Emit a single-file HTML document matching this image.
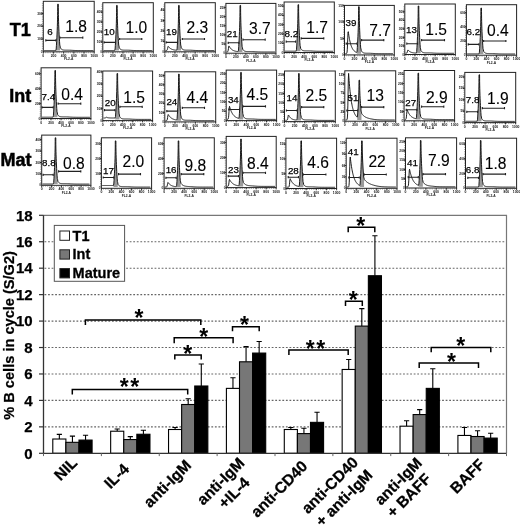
<!DOCTYPE html>
<html><head><meta charset="utf-8"><title>B cell cycle figure</title>
<style>html,body{margin:0;padding:0;background:#fff;}svg{display:block;}</style>
</head><body>
<svg width="520" height="527" viewBox="0 0 520 527" font-family="'Liberation Sans', Arial, sans-serif"><rect x="0" y="0" width="520" height="527" fill="#fff"/><text x="30.80" y="35.70" font-size="18" font-weight="bold" text-anchor="end" fill="#000" stroke="#000" stroke-width="0.5">T1</text><text x="31.20" y="102.00" font-size="18" font-weight="bold" text-anchor="end" fill="#000" stroke="#000" stroke-width="0.5">Int</text><text x="31.50" y="165.60" font-size="18" font-weight="bold" text-anchor="end" fill="#000" stroke="#000" stroke-width="0.5">Mat</text><rect x="43.30" y="1.30" width="50.90" height="50.50" fill="none" stroke="#222" stroke-width="1"/><line x1="42.40" y1="3.30" x2="42.40" y2="51.80" stroke="#444" stroke-width="0.8" stroke-dasharray="0.5 1.3"/><line x1="43.30" y1="52.70" x2="94.20" y2="52.70" stroke="#444" stroke-width="0.8" stroke-dasharray="0.5 1.3"/><line x1="41.50" y1="13.50" x2="43.30" y2="13.50" stroke="#222" stroke-width="0.9"/><text x="42.50" y="14.60" font-size="3.2" font-weight="bold" text-anchor="end" fill="#111" >300</text><line x1="41.50" y1="26.27" x2="43.30" y2="26.27" stroke="#222" stroke-width="0.9"/><text x="42.50" y="27.37" font-size="3.2" font-weight="bold" text-anchor="end" fill="#111" >200</text><line x1="41.50" y1="39.03" x2="43.30" y2="39.03" stroke="#222" stroke-width="0.9"/><text x="42.50" y="40.13" font-size="3.2" font-weight="bold" text-anchor="end" fill="#111" >100</text><text x="42.50" y="52.90" font-size="3.1" font-weight="bold" text-anchor="end" fill="#333" >0</text><line x1="43.30" y1="51.80" x2="43.30" y2="53.60" stroke="#222" stroke-width="0.9"/><text x="43.30" y="56.80" font-size="3.4" font-weight="bold" text-anchor="middle" fill="#111" >0</text><line x1="53.48" y1="51.80" x2="53.48" y2="53.60" stroke="#222" stroke-width="0.9"/><text x="53.48" y="56.80" font-size="3.4" font-weight="bold" text-anchor="middle" fill="#111" >200</text><line x1="63.66" y1="51.80" x2="63.66" y2="53.60" stroke="#222" stroke-width="0.9"/><text x="63.66" y="56.80" font-size="3.4" font-weight="bold" text-anchor="middle" fill="#111" >400</text><line x1="73.84" y1="51.80" x2="73.84" y2="53.60" stroke="#222" stroke-width="0.9"/><text x="73.84" y="56.80" font-size="3.4" font-weight="bold" text-anchor="middle" fill="#111" >600</text><line x1="84.02" y1="51.80" x2="84.02" y2="53.60" stroke="#222" stroke-width="0.9"/><text x="84.02" y="56.80" font-size="3.4" font-weight="bold" text-anchor="middle" fill="#111" >800</text><line x1="94.20" y1="51.80" x2="94.20" y2="53.60" stroke="#222" stroke-width="0.9"/><text x="94.20" y="56.80" font-size="3.4" font-weight="bold" text-anchor="middle" fill="#111" >1000</text><text x="68.75" y="60.20" font-size="3.3" font-weight="bold" text-anchor="middle" fill="#222" >FL2-A</text><path d="M55.90,50.10 L56.20,49.00 L56.44,45.27 L56.66,41.53 L56.86,37.80 L57.03,34.07 L57.19,30.33 L57.33,26.60 L57.44,22.87 L57.53,19.13 L57.61,15.40 L57.66,11.67 L57.69,7.93 L57.70,4.20 L58.30,4.20 L58.31,7.61 L58.34,11.02 L58.39,14.43 L58.47,17.84 L58.56,21.25 L58.67,24.66 L58.81,28.07 L58.97,31.48 L59.14,34.89 L59.34,38.30 L59.56,41.71 L59.80,45.12 L60.15,46.22 L60.15,50.60 L55.90,50.60 Z" fill="#9a9a9a" stroke="none"/><path d="M44.10,50.50 L44.35,50.50 L44.60,50.50 L44.85,50.50 L45.10,50.50 L45.35,50.50 L45.60,50.50 L45.85,50.50 L46.10,50.50 L46.35,50.50 L46.60,50.50 L46.85,50.50 L47.10,50.50 L47.35,50.50 L47.60,50.50 L47.85,50.50 L48.10,50.50 L48.35,50.50 L48.60,50.50 L48.85,50.50 L49.10,50.50 L49.35,50.50 L49.60,50.50 L49.85,50.50 L50.10,50.50 L50.35,50.50 L50.60,50.50 L50.85,50.50 L51.10,50.50 L51.35,50.50 L51.60,50.50 L51.85,50.50 L52.10,50.50 L52.35,50.50 L52.60,50.50 L52.85,50.50 L53.10,50.50 L53.35,50.50 L53.60,50.50 L53.85,50.50 L54.10,50.50 L54.35,50.50 L54.60,50.50 L54.85,50.50 L55.10,50.50 L55.35,50.50 L55.60,50.50 L55.85,50.50 L55.90,50.10 L56.20,49.00 L56.44,45.27 L56.66,41.53 L56.86,37.80 L57.03,34.07 L57.19,30.33 L57.33,26.60 L57.44,22.87 L57.53,19.13 L57.61,15.40 L57.66,11.67 L57.69,7.93 L57.70,4.20 L58.30,4.20 L58.31,7.61 L58.34,11.02 L58.39,14.43 L58.47,17.84 L58.56,21.25 L58.67,24.66 L58.81,28.07 L58.97,31.48 L59.14,34.89 L59.34,38.30 L59.56,41.71 L59.80,45.12 L60.15,46.22 L60.40,47.89 L60.65,48.29 L60.90,48.62 L61.15,48.90 L61.40,49.13 L61.65,49.33 L61.90,49.49 L62.15,49.63 L62.40,49.74 L62.65,49.83 L62.90,49.91 L63.15,49.97 L63.40,50.02 L63.65,50.06 L63.90,50.09 L64.15,50.12 L64.40,50.14 L64.65,50.15 L64.90,50.16 L65.15,50.17 L65.40,50.17 L65.65,50.18 L65.90,50.18 L66.15,50.18 L66.40,50.18 L66.65,50.18 L66.90,50.18 L67.15,50.18 L67.40,50.18 L67.65,50.18 L67.90,50.18 L68.15,50.19 L68.40,50.19 L68.65,50.19 L68.90,50.20 L69.15,50.21 L69.40,50.21 L69.65,50.22 L69.90,50.23 L70.15,50.24 L70.90,50.28 L71.65,50.32 L72.40,50.37 L73.15,50.41 L73.90,50.45 L74.65,50.48 L75.40,50.51 L76.15,50.54 L76.90,50.56 L77.65,50.57 L78.40,50.58 L79.15,50.59 L79.90,50.59 L80.65,50.60 L81.40,50.60 L82.15,50.60 L82.90,50.60 L83.65,50.60 L84.40,50.60 L85.15,50.60 L85.90,50.60 L86.65,50.60 L87.40,50.60 L88.15,50.60 L88.90,50.60 L89.65,50.60 L90.40,50.60 L91.15,50.60 L91.90,50.60 L92.65,50.60 L93.40,50.60" fill="none" stroke="#111" stroke-width="0.95" stroke-linejoin="round"/><path d="M45.80,40.40 H55.90 M45.80,39.30 V41.50 M55.90,39.30 V41.50" stroke="#222" stroke-width="1.1" fill="none"/><path d="M59.90,37.70 H82.80 M59.90,36.60 V38.80 M82.80,36.60 V38.80" stroke="#222" stroke-width="1.1" fill="none"/><text x="50.00" y="35.00" font-size="9.8" font-weight="normal" text-anchor="middle" fill="#000" stroke="#000" stroke-width="0.25">6</text><text x="76.15" y="32.00" font-size="15.6" font-weight="normal" text-anchor="middle" fill="#000" stroke="#000" stroke-width="0.1">1.8</text><rect x="102.80" y="2.70" width="50.50" height="49.10" fill="none" stroke="#222" stroke-width="1"/><line x1="101.90" y1="4.70" x2="101.90" y2="51.80" stroke="#444" stroke-width="0.8" stroke-dasharray="0.5 1.3"/><line x1="102.80" y1="52.70" x2="153.30" y2="52.70" stroke="#444" stroke-width="0.8" stroke-dasharray="0.5 1.3"/><line x1="101.00" y1="12.10" x2="102.80" y2="12.10" stroke="#222" stroke-width="0.9"/><text x="102.00" y="13.20" font-size="3.2" font-weight="bold" text-anchor="end" fill="#111" >400</text><line x1="101.00" y1="22.02" x2="102.80" y2="22.02" stroke="#222" stroke-width="0.9"/><text x="102.00" y="23.12" font-size="3.2" font-weight="bold" text-anchor="end" fill="#111" >300</text><line x1="101.00" y1="31.95" x2="102.80" y2="31.95" stroke="#222" stroke-width="0.9"/><text x="102.00" y="33.05" font-size="3.2" font-weight="bold" text-anchor="end" fill="#111" >200</text><line x1="101.00" y1="41.88" x2="102.80" y2="41.88" stroke="#222" stroke-width="0.9"/><text x="102.00" y="42.98" font-size="3.2" font-weight="bold" text-anchor="end" fill="#111" >100</text><text x="102.00" y="52.90" font-size="3.1" font-weight="bold" text-anchor="end" fill="#333" >0</text><line x1="102.80" y1="51.80" x2="102.80" y2="53.60" stroke="#222" stroke-width="0.9"/><text x="102.80" y="56.80" font-size="3.4" font-weight="bold" text-anchor="middle" fill="#111" >0</text><line x1="112.90" y1="51.80" x2="112.90" y2="53.60" stroke="#222" stroke-width="0.9"/><text x="112.90" y="56.80" font-size="3.4" font-weight="bold" text-anchor="middle" fill="#111" >200</text><line x1="123.00" y1="51.80" x2="123.00" y2="53.60" stroke="#222" stroke-width="0.9"/><text x="123.00" y="56.80" font-size="3.4" font-weight="bold" text-anchor="middle" fill="#111" >400</text><line x1="133.10" y1="51.80" x2="133.10" y2="53.60" stroke="#222" stroke-width="0.9"/><text x="133.10" y="56.80" font-size="3.4" font-weight="bold" text-anchor="middle" fill="#111" >600</text><line x1="143.20" y1="51.80" x2="143.20" y2="53.60" stroke="#222" stroke-width="0.9"/><text x="143.20" y="56.80" font-size="3.4" font-weight="bold" text-anchor="middle" fill="#111" >800</text><line x1="153.30" y1="51.80" x2="153.30" y2="53.60" stroke="#222" stroke-width="0.9"/><text x="153.30" y="56.80" font-size="3.4" font-weight="bold" text-anchor="middle" fill="#111" >1000</text><text x="128.05" y="60.20" font-size="3.3" font-weight="bold" text-anchor="middle" fill="#222" >FL2-A</text><path d="M114.80,50.10 L115.10,49.00 L115.34,45.37 L115.56,41.73 L115.76,38.10 L115.93,34.47 L116.09,30.83 L116.23,27.20 L116.34,23.57 L116.43,19.93 L116.51,16.30 L116.56,12.67 L116.59,9.03 L116.60,5.40 L117.20,5.40 L117.21,8.71 L117.24,12.02 L117.29,15.33 L117.37,18.64 L117.46,21.95 L117.58,25.26 L117.71,28.57 L117.87,31.88 L118.04,35.19 L118.24,38.50 L118.46,41.81 L118.70,45.12 L119.05,46.22 L119.05,50.60 L114.80,50.60 Z" fill="#9a9a9a" stroke="none"/><path d="M103.60,50.50 L103.85,50.50 L104.10,50.50 L104.35,50.50 L104.60,50.50 L104.85,50.50 L105.10,50.50 L105.35,50.50 L105.60,50.50 L105.85,50.50 L106.10,50.50 L106.35,50.50 L106.60,50.50 L106.85,50.50 L107.10,50.50 L107.35,50.50 L107.60,50.50 L107.85,50.50 L108.10,50.50 L108.35,50.50 L108.60,50.50 L108.85,50.50 L109.10,50.50 L109.35,50.50 L109.60,50.50 L109.85,50.50 L110.10,50.50 L110.35,50.50 L110.60,50.50 L110.85,50.50 L111.10,50.50 L111.35,50.50 L111.60,50.50 L111.85,50.50 L112.10,50.50 L112.35,50.50 L112.60,50.50 L112.85,50.50 L113.10,50.50 L113.35,50.50 L113.60,50.50 L113.85,50.50 L114.10,50.50 L114.35,50.50 L114.60,50.50 L114.80,50.10 L115.10,49.00 L115.34,45.37 L115.56,41.73 L115.76,38.10 L115.93,34.47 L116.09,30.83 L116.23,27.20 L116.34,23.57 L116.43,19.93 L116.51,16.30 L116.56,12.67 L116.59,9.03 L116.60,5.40 L117.20,5.40 L117.21,8.71 L117.24,12.02 L117.29,15.33 L117.37,18.64 L117.46,21.95 L117.58,25.26 L117.71,28.57 L117.87,31.88 L118.04,35.19 L118.24,38.50 L118.46,41.81 L118.70,45.12 L119.05,46.22 L119.30,47.89 L119.55,48.29 L119.80,48.62 L120.05,48.90 L120.30,49.13 L120.55,49.33 L120.80,49.49 L121.05,49.63 L121.30,49.74 L121.55,49.83 L121.80,49.91 L122.05,49.97 L122.30,50.02 L122.55,50.06 L122.80,50.09 L123.05,50.12 L123.30,50.14 L123.55,50.15 L123.80,50.16 L124.05,50.17 L124.30,50.17 L124.55,50.18 L124.80,50.18 L125.05,50.18 L125.30,50.18 L125.55,50.18 L125.80,50.18 L126.05,50.18 L126.30,50.18 L126.55,50.18 L126.80,50.18 L127.05,50.19 L127.30,50.19 L127.55,50.19 L127.80,50.20 L128.05,50.21 L128.30,50.21 L128.55,50.22 L128.80,50.23 L129.05,50.24 L129.80,50.28 L130.55,50.32 L131.30,50.37 L132.05,50.41 L132.80,50.45 L133.55,50.48 L134.30,50.51 L135.05,50.54 L135.80,50.56 L136.55,50.57 L137.30,50.58 L138.05,50.59 L138.80,50.59 L139.55,50.60 L140.30,50.60 L141.05,50.60 L141.80,50.60 L142.55,50.60 L143.30,50.60 L144.05,50.60 L144.80,50.60 L145.55,50.60 L146.30,50.60 L147.05,50.60 L147.80,50.60 L148.55,50.60 L149.30,50.60 L150.05,50.60 L150.80,50.60 L151.55,50.60 L152.30,50.60" fill="none" stroke="#111" stroke-width="0.95" stroke-linejoin="round"/><path d="M104.10,42.40 H115.60 M104.10,41.30 V43.50 M115.60,41.30 V43.50" stroke="#222" stroke-width="1.1" fill="none"/><path d="M119.60,39.00 H141.80 M119.60,37.90 V40.10 M141.80,37.90 V40.10" stroke="#222" stroke-width="1.1" fill="none"/><text x="109.20" y="35.00" font-size="9.8" font-weight="normal" text-anchor="middle" fill="#000" stroke="#000" stroke-width="0.25">10</text><text x="136.45" y="33.10" font-size="15.6" font-weight="normal" text-anchor="middle" fill="#000" stroke="#000" stroke-width="0.1">1.0</text><rect x="164.80" y="2.70" width="50.50" height="49.10" fill="none" stroke="#222" stroke-width="1"/><line x1="163.90" y1="4.70" x2="163.90" y2="51.80" stroke="#444" stroke-width="0.8" stroke-dasharray="0.5 1.3"/><line x1="164.80" y1="52.70" x2="215.30" y2="52.70" stroke="#444" stroke-width="0.8" stroke-dasharray="0.5 1.3"/><line x1="163.00" y1="10.10" x2="164.80" y2="10.10" stroke="#222" stroke-width="0.9"/><text x="164.00" y="11.20" font-size="3.2" font-weight="bold" text-anchor="end" fill="#111" >40</text><line x1="163.00" y1="20.52" x2="164.80" y2="20.52" stroke="#222" stroke-width="0.9"/><text x="164.00" y="21.62" font-size="3.2" font-weight="bold" text-anchor="end" fill="#111" >30</text><line x1="163.00" y1="30.95" x2="164.80" y2="30.95" stroke="#222" stroke-width="0.9"/><text x="164.00" y="32.05" font-size="3.2" font-weight="bold" text-anchor="end" fill="#111" >20</text><line x1="163.00" y1="41.38" x2="164.80" y2="41.38" stroke="#222" stroke-width="0.9"/><text x="164.00" y="42.48" font-size="3.2" font-weight="bold" text-anchor="end" fill="#111" >10</text><text x="164.00" y="52.90" font-size="3.1" font-weight="bold" text-anchor="end" fill="#333" >0</text><line x1="164.80" y1="51.80" x2="164.80" y2="53.60" stroke="#222" stroke-width="0.9"/><text x="164.80" y="56.80" font-size="3.4" font-weight="bold" text-anchor="middle" fill="#111" >0</text><line x1="174.90" y1="51.80" x2="174.90" y2="53.60" stroke="#222" stroke-width="0.9"/><text x="174.90" y="56.80" font-size="3.4" font-weight="bold" text-anchor="middle" fill="#111" >200</text><line x1="185.00" y1="51.80" x2="185.00" y2="53.60" stroke="#222" stroke-width="0.9"/><text x="185.00" y="56.80" font-size="3.4" font-weight="bold" text-anchor="middle" fill="#111" >400</text><line x1="195.10" y1="51.80" x2="195.10" y2="53.60" stroke="#222" stroke-width="0.9"/><text x="195.10" y="56.80" font-size="3.4" font-weight="bold" text-anchor="middle" fill="#111" >600</text><line x1="205.20" y1="51.80" x2="205.20" y2="53.60" stroke="#222" stroke-width="0.9"/><text x="205.20" y="56.80" font-size="3.4" font-weight="bold" text-anchor="middle" fill="#111" >800</text><line x1="215.30" y1="51.80" x2="215.30" y2="53.60" stroke="#222" stroke-width="0.9"/><text x="215.30" y="56.80" font-size="3.4" font-weight="bold" text-anchor="middle" fill="#111" >1000</text><text x="190.05" y="60.20" font-size="3.3" font-weight="bold" text-anchor="middle" fill="#222" >FL2-A</text><path d="M176.80,49.88 L177.10,48.78 L177.34,45.17 L177.56,41.55 L177.76,37.94 L177.93,34.32 L178.09,30.71 L178.22,27.09 L178.34,23.48 L178.43,19.86 L178.51,16.25 L178.56,12.63 L178.59,9.02 L178.60,5.40 L179.20,5.40 L179.21,8.70 L179.24,12.01 L179.29,15.31 L179.37,18.62 L179.46,21.92 L179.58,25.23 L179.71,28.53 L179.87,31.84 L180.04,35.14 L180.24,38.45 L180.46,41.75 L180.70,45.06 L181.05,46.16 L181.05,50.60 L176.80,50.60 Z" fill="#9a9a9a" stroke="none"/><path d="M165.60,50.50 L165.85,50.50 L166.10,50.50 L166.35,50.50 L166.60,50.48 L166.85,50.40 L167.10,50.14 L167.35,49.54 L167.60,48.49 L167.85,47.23 L168.10,46.38 L168.35,46.50 L168.60,46.82 L168.85,47.12 L169.10,47.39 L169.35,47.64 L169.60,47.87 L169.85,48.08 L170.10,48.27 L170.35,48.45 L170.60,48.61 L170.85,48.76 L171.10,48.90 L171.35,49.03 L171.60,49.15 L171.85,49.26 L172.10,49.36 L172.35,49.45 L172.60,49.53 L172.85,49.61 L173.10,49.68 L173.35,49.75 L173.60,49.81 L173.85,49.86 L174.10,49.91 L174.35,49.96 L174.60,50.00 L174.85,50.04 L175.10,50.08 L175.35,50.11 L175.60,50.14 L175.85,50.17 L176.10,50.20 L176.35,50.22 L176.60,50.24 L176.80,49.88 L177.10,48.78 L177.34,45.17 L177.56,41.55 L177.76,37.94 L177.93,34.32 L178.09,30.71 L178.22,27.09 L178.34,23.48 L178.43,19.86 L178.51,16.25 L178.56,12.63 L178.59,9.02 L178.60,5.40 L179.20,5.40 L179.21,8.70 L179.24,12.01 L179.29,15.31 L179.37,18.62 L179.46,21.92 L179.58,25.23 L179.71,28.53 L179.87,31.84 L180.04,35.14 L180.24,38.45 L180.46,41.75 L180.70,45.06 L181.05,46.16 L181.30,47.84 L181.55,48.24 L181.80,48.57 L182.05,48.86 L182.30,49.09 L182.55,49.29 L182.80,49.46 L183.05,49.60 L183.30,49.71 L183.55,49.81 L183.80,49.89 L184.05,49.95 L184.30,50.00 L184.55,50.04 L184.80,50.08 L185.05,50.10 L185.30,50.12 L185.55,50.14 L185.80,50.15 L186.05,50.16 L186.30,50.16 L186.55,50.17 L186.80,50.17 L187.05,50.17 L187.30,50.17 L187.55,50.17 L187.80,50.17 L188.05,50.17 L188.30,50.17 L188.55,50.18 L188.80,50.18 L189.05,50.18 L189.30,50.19 L189.55,50.19 L189.80,50.20 L190.05,50.20 L190.30,50.21 L190.55,50.22 L190.80,50.23 L191.05,50.24 L191.80,50.28 L192.55,50.32 L193.30,50.36 L194.05,50.41 L194.80,50.45 L195.55,50.48 L196.30,50.51 L197.05,50.54 L197.80,50.56 L198.55,50.57 L199.30,50.58 L200.05,50.59 L200.80,50.59 L201.55,50.60 L202.30,50.60 L203.05,50.60 L203.80,50.60 L204.55,50.60 L205.30,50.60 L206.05,50.60 L206.80,50.60 L207.55,50.60 L208.30,50.60 L209.05,50.60 L209.80,50.60 L210.55,50.60 L211.30,50.60 L212.05,50.60 L212.80,50.60 L213.55,50.60 L214.30,50.60" fill="none" stroke="#111" stroke-width="0.95" stroke-linejoin="round"/><path d="M166.20,42.40 H177.60 M166.20,41.30 V43.50 M177.60,41.30 V43.50" stroke="#222" stroke-width="1.1" fill="none"/><path d="M182.30,39.00 H204.50 M182.30,37.90 V40.10 M204.50,37.90 V40.10" stroke="#222" stroke-width="1.1" fill="none"/><text x="171.50" y="35.40" font-size="9.8" font-weight="normal" text-anchor="middle" fill="#000" stroke="#000" stroke-width="0.25">19</text><text x="197.45" y="32.70" font-size="15.6" font-weight="normal" text-anchor="middle" fill="#000" stroke="#000" stroke-width="0.1">2.3</text><rect x="225.90" y="3.40" width="50.00" height="49.80" fill="none" stroke="#222" stroke-width="1"/><line x1="225.00" y1="5.40" x2="225.00" y2="53.20" stroke="#444" stroke-width="0.8" stroke-dasharray="0.5 1.3"/><line x1="225.90" y1="54.10" x2="275.90" y2="54.10" stroke="#444" stroke-width="0.8" stroke-dasharray="0.5 1.3"/><line x1="224.10" y1="7.40" x2="225.90" y2="7.40" stroke="#222" stroke-width="0.9"/><text x="225.10" y="8.50" font-size="3.2" font-weight="bold" text-anchor="end" fill="#111" >250</text><line x1="224.10" y1="16.56" x2="225.90" y2="16.56" stroke="#222" stroke-width="0.9"/><text x="225.10" y="17.66" font-size="3.2" font-weight="bold" text-anchor="end" fill="#111" >200</text><line x1="224.10" y1="25.72" x2="225.90" y2="25.72" stroke="#222" stroke-width="0.9"/><text x="225.10" y="26.82" font-size="3.2" font-weight="bold" text-anchor="end" fill="#111" >150</text><line x1="224.10" y1="34.88" x2="225.90" y2="34.88" stroke="#222" stroke-width="0.9"/><text x="225.10" y="35.98" font-size="3.2" font-weight="bold" text-anchor="end" fill="#111" >100</text><line x1="224.10" y1="44.04" x2="225.90" y2="44.04" stroke="#222" stroke-width="0.9"/><text x="225.10" y="45.14" font-size="3.2" font-weight="bold" text-anchor="end" fill="#111" >50</text><text x="225.10" y="54.30" font-size="3.1" font-weight="bold" text-anchor="end" fill="#333" >0</text><line x1="225.90" y1="53.20" x2="225.90" y2="55.00" stroke="#222" stroke-width="0.9"/><text x="225.90" y="58.20" font-size="3.4" font-weight="bold" text-anchor="middle" fill="#111" >0</text><line x1="235.90" y1="53.20" x2="235.90" y2="55.00" stroke="#222" stroke-width="0.9"/><text x="235.90" y="58.20" font-size="3.4" font-weight="bold" text-anchor="middle" fill="#111" >200</text><line x1="245.90" y1="53.20" x2="245.90" y2="55.00" stroke="#222" stroke-width="0.9"/><text x="245.90" y="58.20" font-size="3.4" font-weight="bold" text-anchor="middle" fill="#111" >400</text><line x1="255.90" y1="53.20" x2="255.90" y2="55.00" stroke="#222" stroke-width="0.9"/><text x="255.90" y="58.20" font-size="3.4" font-weight="bold" text-anchor="middle" fill="#111" >600</text><line x1="265.90" y1="53.20" x2="265.90" y2="55.00" stroke="#222" stroke-width="0.9"/><text x="265.90" y="58.20" font-size="3.4" font-weight="bold" text-anchor="middle" fill="#111" >800</text><line x1="275.90" y1="53.20" x2="275.90" y2="55.00" stroke="#222" stroke-width="0.9"/><text x="275.90" y="58.20" font-size="3.4" font-weight="bold" text-anchor="middle" fill="#111" >1000</text><text x="250.90" y="61.60" font-size="3.3" font-weight="bold" text-anchor="middle" fill="#222" >FL2-A</text><path d="M238.20,51.25 L238.50,50.15 L238.74,46.42 L238.96,42.69 L239.16,38.96 L239.33,35.23 L239.49,31.50 L239.62,27.77 L239.74,24.04 L239.83,20.32 L239.91,16.59 L239.96,12.86 L239.99,9.13 L240.00,5.40 L240.60,5.40 L240.61,8.82 L240.64,12.24 L240.69,15.66 L240.77,19.08 L240.86,22.50 L240.98,25.92 L241.11,29.34 L241.27,32.76 L241.44,36.18 L241.64,39.60 L241.86,43.02 L242.10,46.45 L242.45,47.55 L242.45,52.00 L238.20,52.00 Z" fill="#9a9a9a" stroke="none"/><path d="M226.70,51.90 L226.95,51.90 L227.20,51.89 L227.45,51.86 L227.70,51.71 L227.95,51.27 L228.20,50.27 L228.45,48.66 L228.70,46.91 L228.95,45.93 L229.20,46.29 L229.45,46.74 L229.70,47.15 L229.95,47.53 L230.20,47.88 L230.45,48.20 L230.70,48.50 L230.95,48.77 L231.20,49.02 L231.45,49.25 L231.70,49.46 L231.95,49.66 L232.20,49.84 L232.45,50.00 L232.70,50.15 L232.95,50.29 L233.20,50.42 L233.45,50.54 L233.70,50.65 L233.95,50.75 L234.20,50.84 L234.45,50.92 L234.70,51.00 L234.95,51.07 L235.20,51.14 L235.45,51.20 L235.70,51.26 L235.95,51.31 L236.20,51.36 L236.45,51.40 L236.70,51.44 L236.95,51.48 L237.20,51.51 L237.45,51.54 L237.70,51.57 L237.95,51.60 L238.20,51.25 L238.50,50.15 L238.74,46.42 L238.96,42.69 L239.16,38.96 L239.33,35.23 L239.49,31.50 L239.62,27.77 L239.74,24.04 L239.83,20.32 L239.91,16.59 L239.96,12.86 L239.99,9.13 L240.00,5.40 L240.60,5.40 L240.61,8.82 L240.64,12.24 L240.69,15.66 L240.77,19.08 L240.86,22.50 L240.98,25.92 L241.11,29.34 L241.27,32.76 L241.44,36.18 L241.64,39.60 L241.86,43.02 L242.10,46.45 L242.45,47.55 L242.70,49.23 L242.95,49.63 L243.20,49.97 L243.45,50.25 L243.70,50.49 L243.95,50.69 L244.20,50.85 L244.45,50.99 L244.70,51.11 L244.95,51.20 L245.20,51.28 L245.45,51.35 L245.70,51.40 L245.95,51.44 L246.20,51.48 L246.45,51.50 L246.70,51.52 L246.95,51.54 L247.20,51.55 L247.45,51.56 L247.70,51.56 L247.95,51.57 L248.20,51.57 L248.45,51.57 L248.70,51.57 L248.95,51.57 L249.20,51.57 L249.45,51.57 L249.70,51.57 L249.95,51.57 L250.20,51.58 L250.45,51.58 L250.70,51.58 L250.95,51.59 L251.20,51.60 L251.45,51.60 L251.70,51.61 L251.95,51.62 L252.20,51.63 L252.45,51.64 L253.20,51.68 L253.95,51.72 L254.70,51.76 L255.45,51.81 L256.20,51.85 L256.95,51.88 L257.70,51.91 L258.45,51.94 L259.20,51.96 L259.95,51.97 L260.70,51.98 L261.45,51.99 L262.20,51.99 L262.95,52.00 L263.70,52.00 L264.45,52.00 L265.20,52.00 L265.95,52.00 L266.70,52.00 L267.45,52.00 L268.20,52.00 L268.95,52.00 L269.70,52.00 L270.45,52.00 L271.20,52.00 L271.95,52.00 L272.70,52.00 L273.45,52.00 L274.20,52.00 L274.95,52.00" fill="none" stroke="#111" stroke-width="0.95" stroke-linejoin="round"/><path d="M228.20,42.80 H238.90 M228.20,41.70 V43.90 M238.90,41.70 V43.90" stroke="#222" stroke-width="1.1" fill="none"/><path d="M243.00,39.70 H265.20 M243.00,38.60 V40.80 M265.20,38.60 V40.80" stroke="#222" stroke-width="1.1" fill="none"/><text x="232.20" y="37.10" font-size="9.8" font-weight="normal" text-anchor="middle" fill="#000" stroke="#000" stroke-width="0.25">21</text><text x="259.80" y="34.00" font-size="15.6" font-weight="normal" text-anchor="middle" fill="#000" stroke="#000" stroke-width="0.1">3.7</text><rect x="284.10" y="2.00" width="50.20" height="50.50" fill="none" stroke="#222" stroke-width="1"/><line x1="283.20" y1="4.00" x2="283.20" y2="52.50" stroke="#444" stroke-width="0.8" stroke-dasharray="0.5 1.3"/><line x1="284.10" y1="53.40" x2="334.30" y2="53.40" stroke="#444" stroke-width="0.8" stroke-dasharray="0.5 1.3"/><line x1="282.30" y1="6.10" x2="284.10" y2="6.10" stroke="#222" stroke-width="0.9"/><text x="283.30" y="7.20" font-size="3.2" font-weight="bold" text-anchor="end" fill="#111" >500</text><line x1="282.30" y1="15.38" x2="284.10" y2="15.38" stroke="#222" stroke-width="0.9"/><text x="283.30" y="16.48" font-size="3.2" font-weight="bold" text-anchor="end" fill="#111" >400</text><line x1="282.30" y1="24.66" x2="284.10" y2="24.66" stroke="#222" stroke-width="0.9"/><text x="283.30" y="25.76" font-size="3.2" font-weight="bold" text-anchor="end" fill="#111" >300</text><line x1="282.30" y1="33.94" x2="284.10" y2="33.94" stroke="#222" stroke-width="0.9"/><text x="283.30" y="35.04" font-size="3.2" font-weight="bold" text-anchor="end" fill="#111" >200</text><line x1="282.30" y1="43.22" x2="284.10" y2="43.22" stroke="#222" stroke-width="0.9"/><text x="283.30" y="44.32" font-size="3.2" font-weight="bold" text-anchor="end" fill="#111" >100</text><text x="283.30" y="53.60" font-size="3.1" font-weight="bold" text-anchor="end" fill="#333" >0</text><line x1="284.10" y1="52.50" x2="284.10" y2="54.30" stroke="#222" stroke-width="0.9"/><text x="284.10" y="57.50" font-size="3.4" font-weight="bold" text-anchor="middle" fill="#111" >0</text><line x1="294.14" y1="52.50" x2="294.14" y2="54.30" stroke="#222" stroke-width="0.9"/><text x="294.14" y="57.50" font-size="3.4" font-weight="bold" text-anchor="middle" fill="#111" >200</text><line x1="304.18" y1="52.50" x2="304.18" y2="54.30" stroke="#222" stroke-width="0.9"/><text x="304.18" y="57.50" font-size="3.4" font-weight="bold" text-anchor="middle" fill="#111" >400</text><line x1="314.22" y1="52.50" x2="314.22" y2="54.30" stroke="#222" stroke-width="0.9"/><text x="314.22" y="57.50" font-size="3.4" font-weight="bold" text-anchor="middle" fill="#111" >600</text><line x1="324.26" y1="52.50" x2="324.26" y2="54.30" stroke="#222" stroke-width="0.9"/><text x="324.26" y="57.50" font-size="3.4" font-weight="bold" text-anchor="middle" fill="#111" >800</text><line x1="334.30" y1="52.50" x2="334.30" y2="54.30" stroke="#222" stroke-width="0.9"/><text x="334.30" y="57.50" font-size="3.4" font-weight="bold" text-anchor="middle" fill="#111" >1000</text><text x="309.20" y="60.90" font-size="3.3" font-weight="bold" text-anchor="middle" fill="#222" >FL2-A</text><path d="M296.20,50.80 L296.50,49.70 L296.74,45.95 L296.96,42.20 L297.16,38.45 L297.33,34.70 L297.49,30.95 L297.62,27.20 L297.74,23.45 L297.83,19.70 L297.91,15.95 L297.96,12.20 L297.99,8.45 L298.00,4.70 L298.60,4.70 L298.61,8.13 L298.64,11.55 L298.69,14.98 L298.77,18.41 L298.86,21.83 L298.98,25.26 L299.11,28.69 L299.27,32.11 L299.44,35.54 L299.64,38.97 L299.86,42.39 L300.10,45.82 L300.45,46.92 L300.45,51.30 L296.20,51.30 Z" fill="#9a9a9a" stroke="none"/><path d="M284.90,51.20 L285.15,51.20 L285.40,51.20 L285.65,51.20 L285.90,51.20 L286.15,51.20 L286.40,51.20 L286.65,51.20 L286.90,51.20 L287.15,51.20 L287.40,51.20 L287.65,51.20 L287.90,51.20 L288.15,51.20 L288.40,51.20 L288.65,51.20 L288.90,51.20 L289.15,51.20 L289.40,51.20 L289.65,51.20 L289.90,51.20 L290.15,51.20 L290.40,51.20 L290.65,51.20 L290.90,51.20 L291.15,51.20 L291.40,51.20 L291.65,51.20 L291.90,51.20 L292.15,51.20 L292.40,51.20 L292.65,51.20 L292.90,51.20 L293.15,51.20 L293.40,51.20 L293.65,51.20 L293.90,51.20 L294.15,51.20 L294.40,51.20 L294.65,51.20 L294.90,51.20 L295.15,51.20 L295.40,51.20 L295.65,51.20 L295.90,51.20 L296.15,51.20 L296.20,50.80 L296.50,49.70 L296.74,45.95 L296.96,42.20 L297.16,38.45 L297.33,34.70 L297.49,30.95 L297.62,27.20 L297.74,23.45 L297.83,19.70 L297.91,15.95 L297.96,12.20 L297.99,8.45 L298.00,4.70 L298.60,4.70 L298.61,8.13 L298.64,11.55 L298.69,14.98 L298.77,18.41 L298.86,21.83 L298.98,25.26 L299.11,28.69 L299.27,32.11 L299.44,35.54 L299.64,38.97 L299.86,42.39 L300.10,45.82 L300.45,46.92 L300.70,48.59 L300.95,48.99 L301.20,49.32 L301.45,49.60 L301.70,49.83 L301.95,50.03 L302.20,50.19 L302.45,50.33 L302.70,50.44 L302.95,50.53 L303.20,50.61 L303.45,50.67 L303.70,50.72 L303.95,50.76 L304.20,50.79 L304.45,50.82 L304.70,50.84 L304.95,50.85 L305.20,50.86 L305.45,50.87 L305.70,50.87 L305.95,50.88 L306.20,50.88 L306.45,50.88 L306.70,50.88 L306.95,50.88 L307.20,50.88 L307.45,50.88 L307.70,50.88 L307.95,50.88 L308.20,50.88 L308.45,50.89 L308.70,50.89 L308.95,50.89 L309.20,50.90 L309.45,50.91 L309.70,50.91 L309.95,50.92 L310.20,50.93 L310.45,50.94 L311.20,50.98 L311.95,51.02 L312.70,51.07 L313.45,51.11 L314.20,51.15 L314.95,51.18 L315.70,51.21 L316.45,51.24 L317.20,51.26 L317.95,51.27 L318.70,51.28 L319.45,51.29 L320.20,51.29 L320.95,51.30 L321.70,51.30 L322.45,51.30 L323.20,51.30 L323.95,51.30 L324.70,51.30 L325.45,51.30 L326.20,51.30 L326.95,51.30 L327.70,51.30 L328.45,51.30 L329.20,51.30 L329.95,51.30 L330.70,51.30 L331.45,51.30 L332.20,51.30 L332.95,51.30" fill="none" stroke="#111" stroke-width="0.95" stroke-linejoin="round"/><path d="M286.20,41.70 H295.60 M286.20,40.60 V42.80 M295.60,40.60 V42.80" stroke="#222" stroke-width="1.1" fill="none"/><path d="M301.20,38.40 H323.80 M301.20,37.30 V39.50 M323.80,37.30 V39.50" stroke="#222" stroke-width="1.1" fill="none"/><text x="291.35" y="36.70" font-size="9.8" font-weight="normal" text-anchor="middle" fill="#000" stroke="#000" stroke-width="0.25">8.2</text><text x="317.10" y="33.30" font-size="15.6" font-weight="normal" text-anchor="middle" fill="#000" stroke="#000" stroke-width="0.1">1.7</text><rect x="344.50" y="5.40" width="49.80" height="49.50" fill="none" stroke="#222" stroke-width="1"/><line x1="343.60" y1="7.40" x2="343.60" y2="54.90" stroke="#444" stroke-width="0.8" stroke-dasharray="0.5 1.3"/><line x1="344.50" y1="55.80" x2="394.30" y2="55.80" stroke="#444" stroke-width="0.8" stroke-dasharray="0.5 1.3"/><line x1="342.70" y1="5.40" x2="344.50" y2="5.40" stroke="#222" stroke-width="0.9"/><text x="343.70" y="6.50" font-size="3.2" font-weight="bold" text-anchor="end" fill="#111" >150</text><line x1="342.70" y1="21.90" x2="344.50" y2="21.90" stroke="#222" stroke-width="0.9"/><text x="343.70" y="23.00" font-size="3.2" font-weight="bold" text-anchor="end" fill="#111" >100</text><line x1="342.70" y1="38.40" x2="344.50" y2="38.40" stroke="#222" stroke-width="0.9"/><text x="343.70" y="39.50" font-size="3.2" font-weight="bold" text-anchor="end" fill="#111" >50</text><text x="343.70" y="56.00" font-size="3.1" font-weight="bold" text-anchor="end" fill="#333" >0</text><line x1="344.50" y1="54.90" x2="344.50" y2="56.70" stroke="#222" stroke-width="0.9"/><text x="344.50" y="59.90" font-size="3.4" font-weight="bold" text-anchor="middle" fill="#111" >0</text><line x1="354.46" y1="54.90" x2="354.46" y2="56.70" stroke="#222" stroke-width="0.9"/><text x="354.46" y="59.90" font-size="3.4" font-weight="bold" text-anchor="middle" fill="#111" >200</text><line x1="364.42" y1="54.90" x2="364.42" y2="56.70" stroke="#222" stroke-width="0.9"/><text x="364.42" y="59.90" font-size="3.4" font-weight="bold" text-anchor="middle" fill="#111" >400</text><line x1="374.38" y1="54.90" x2="374.38" y2="56.70" stroke="#222" stroke-width="0.9"/><text x="374.38" y="59.90" font-size="3.4" font-weight="bold" text-anchor="middle" fill="#111" >600</text><line x1="384.34" y1="54.90" x2="384.34" y2="56.70" stroke="#222" stroke-width="0.9"/><text x="384.34" y="59.90" font-size="3.4" font-weight="bold" text-anchor="middle" fill="#111" >800</text><line x1="394.30" y1="54.90" x2="394.30" y2="56.70" stroke="#222" stroke-width="0.9"/><text x="394.30" y="59.90" font-size="3.4" font-weight="bold" text-anchor="middle" fill="#111" >1000</text><text x="369.40" y="63.30" font-size="3.3" font-weight="bold" text-anchor="middle" fill="#222" >FL2-A</text><path d="M356.80,52.25 L357.10,51.15 L357.34,47.45 L357.56,43.75 L357.76,40.04 L357.93,36.34 L358.09,32.63 L358.22,28.93 L358.34,25.22 L358.43,21.52 L358.51,17.81 L358.56,14.11 L358.59,10.40 L358.60,6.70 L359.20,6.70 L359.21,10.14 L359.24,13.58 L359.29,17.02 L359.37,20.45 L359.46,23.89 L359.57,27.33 L359.71,30.77 L359.87,34.21 L360.04,37.65 L360.24,41.08 L360.46,44.52 L360.70,47.96 L361.05,49.06 L361.05,53.70 L356.80,53.70 Z" fill="#9a9a9a" stroke="none"/><path d="M345.30,53.60 L345.55,53.60 L345.80,53.60 L346.05,53.60 L346.30,53.59 L346.55,53.51 L346.80,53.18 L347.05,52.07 L347.30,49.25 L347.55,44.02 L347.80,37.22 L348.05,31.92 L348.30,31.70 L348.55,33.57 L348.80,35.28 L349.05,36.84 L349.30,38.27 L349.55,39.58 L349.80,40.78 L350.05,41.88 L350.30,42.88 L350.55,43.79 L350.80,44.63 L351.05,45.40 L351.30,46.10 L351.55,46.74 L351.80,47.32 L352.05,47.86 L352.30,48.35 L352.55,48.80 L352.80,49.21 L353.05,49.58 L353.30,49.93 L353.55,50.24 L353.80,50.53 L354.05,50.79 L354.30,51.03 L354.55,51.25 L354.80,51.45 L355.05,51.63 L355.30,51.80 L355.55,51.96 L355.80,52.10 L356.05,52.22 L356.30,52.34 L356.55,52.45 L356.80,52.25 L357.10,51.15 L357.34,47.45 L357.56,43.75 L357.76,40.04 L357.93,36.34 L358.09,32.63 L358.22,28.93 L358.34,25.22 L358.43,21.52 L358.51,17.81 L358.56,14.11 L358.59,10.40 L358.60,6.70 L359.20,6.70 L359.21,10.14 L359.24,13.58 L359.29,17.02 L359.37,20.45 L359.46,23.89 L359.57,27.33 L359.71,30.77 L359.87,34.21 L360.04,37.65 L360.24,41.08 L360.46,44.52 L360.70,47.96 L361.05,49.06 L361.30,50.78 L361.55,51.20 L361.80,51.54 L362.05,51.84 L362.30,52.09 L362.55,52.29 L362.80,52.47 L363.05,52.61 L363.30,52.74 L363.55,52.84 L363.80,52.92 L364.05,52.99 L364.30,53.05 L364.55,53.10 L364.80,53.13 L365.05,53.16 L365.30,53.19 L365.55,53.21 L365.80,53.22 L366.05,53.23 L366.30,53.24 L366.55,53.25 L366.80,53.25 L367.05,53.25 L367.30,53.25 L367.55,53.26 L367.80,53.26 L368.05,53.26 L368.30,53.26 L368.55,53.26 L368.80,53.27 L369.05,53.27 L369.30,53.28 L369.55,53.28 L369.80,53.29 L370.05,53.30 L370.30,53.31 L370.55,53.32 L370.80,53.33 L371.05,53.34 L371.80,53.38 L372.55,53.42 L373.30,53.46 L374.05,53.51 L374.80,53.55 L375.55,53.58 L376.30,53.61 L377.05,53.64 L377.80,53.66 L378.55,53.67 L379.30,53.68 L380.05,53.69 L380.80,53.69 L381.55,53.70 L382.30,53.70 L383.05,53.70 L383.80,53.70 L384.55,53.70 L385.30,53.70 L386.05,53.70 L386.80,53.70 L387.55,53.70 L388.30,53.70 L389.05,53.70 L389.80,53.70 L390.55,53.70 L391.30,53.70 L392.05,53.70 L392.80,53.70" fill="none" stroke="#111" stroke-width="0.95" stroke-linejoin="round"/><path d="M346.20,43.70 H356.90 M346.20,42.60 V44.80 M356.90,42.60 V44.80" stroke="#222" stroke-width="1.1" fill="none"/><path d="M361.60,40.10 H383.80 M361.60,39.00 V41.20 M383.80,39.00 V41.20" stroke="#222" stroke-width="1.1" fill="none"/><text x="351.05" y="25.90" font-size="9.8" font-weight="normal" text-anchor="middle" fill="#000" stroke="#000" stroke-width="0.25">39</text><text x="380.10" y="36.00" font-size="15.6" font-weight="normal" text-anchor="middle" fill="#000" stroke="#000" stroke-width="0.1">7.7</text><rect x="404.80" y="4.00" width="50.50" height="50.50" fill="none" stroke="#222" stroke-width="1"/><line x1="403.90" y1="6.00" x2="403.90" y2="54.50" stroke="#444" stroke-width="0.8" stroke-dasharray="0.5 1.3"/><line x1="404.80" y1="55.40" x2="455.30" y2="55.40" stroke="#444" stroke-width="0.8" stroke-dasharray="0.5 1.3"/><line x1="403.00" y1="11.80" x2="404.80" y2="11.80" stroke="#222" stroke-width="0.9"/><text x="404.00" y="12.90" font-size="3.2" font-weight="bold" text-anchor="end" fill="#111" >500</text><line x1="403.00" y1="20.34" x2="404.80" y2="20.34" stroke="#222" stroke-width="0.9"/><text x="404.00" y="21.44" font-size="3.2" font-weight="bold" text-anchor="end" fill="#111" >400</text><line x1="403.00" y1="28.88" x2="404.80" y2="28.88" stroke="#222" stroke-width="0.9"/><text x="404.00" y="29.98" font-size="3.2" font-weight="bold" text-anchor="end" fill="#111" >300</text><line x1="403.00" y1="37.42" x2="404.80" y2="37.42" stroke="#222" stroke-width="0.9"/><text x="404.00" y="38.52" font-size="3.2" font-weight="bold" text-anchor="end" fill="#111" >200</text><line x1="403.00" y1="45.96" x2="404.80" y2="45.96" stroke="#222" stroke-width="0.9"/><text x="404.00" y="47.06" font-size="3.2" font-weight="bold" text-anchor="end" fill="#111" >100</text><text x="404.00" y="55.60" font-size="3.1" font-weight="bold" text-anchor="end" fill="#333" >0</text><line x1="404.80" y1="54.50" x2="404.80" y2="56.30" stroke="#222" stroke-width="0.9"/><text x="404.80" y="59.50" font-size="3.4" font-weight="bold" text-anchor="middle" fill="#111" >0</text><line x1="414.90" y1="54.50" x2="414.90" y2="56.30" stroke="#222" stroke-width="0.9"/><text x="414.90" y="59.50" font-size="3.4" font-weight="bold" text-anchor="middle" fill="#111" >200</text><line x1="425.00" y1="54.50" x2="425.00" y2="56.30" stroke="#222" stroke-width="0.9"/><text x="425.00" y="59.50" font-size="3.4" font-weight="bold" text-anchor="middle" fill="#111" >400</text><line x1="435.10" y1="54.50" x2="435.10" y2="56.30" stroke="#222" stroke-width="0.9"/><text x="435.10" y="59.50" font-size="3.4" font-weight="bold" text-anchor="middle" fill="#111" >600</text><line x1="445.20" y1="54.50" x2="445.20" y2="56.30" stroke="#222" stroke-width="0.9"/><text x="445.20" y="59.50" font-size="3.4" font-weight="bold" text-anchor="middle" fill="#111" >800</text><line x1="455.30" y1="54.50" x2="455.30" y2="56.30" stroke="#222" stroke-width="0.9"/><text x="455.30" y="59.50" font-size="3.4" font-weight="bold" text-anchor="middle" fill="#111" >1000</text><text x="430.05" y="62.90" font-size="3.3" font-weight="bold" text-anchor="middle" fill="#222" >FL2-A</text><path d="M416.40,52.70 L416.70,51.60 L416.94,47.80 L417.16,44.00 L417.36,40.20 L417.53,36.40 L417.69,32.60 L417.82,28.80 L417.94,25.00 L418.03,21.20 L418.11,17.40 L418.16,13.60 L418.19,9.80 L418.20,6.00 L418.80,6.00 L418.81,9.48 L418.84,12.97 L418.89,16.45 L418.97,19.93 L419.06,23.42 L419.18,26.90 L419.31,30.38 L419.47,33.86 L419.64,37.35 L419.84,40.83 L420.06,44.31 L420.30,47.80 L420.65,48.90 L420.65,53.30 L416.40,53.30 Z" fill="#9a9a9a" stroke="none"/><path d="M405.60,53.20 L405.85,53.20 L406.10,53.20 L406.35,53.19 L406.60,53.14 L406.85,52.98 L407.10,52.57 L407.35,51.81 L407.60,50.82 L407.85,50.05 L408.10,50.03 L408.35,50.33 L408.60,50.60 L408.85,50.85 L409.10,51.07 L409.35,51.28 L409.60,51.46 L409.85,51.63 L410.10,51.78 L410.35,51.91 L410.60,52.03 L410.85,52.14 L411.10,52.25 L411.35,52.34 L411.60,52.42 L411.85,52.49 L412.10,52.56 L412.35,52.62 L412.60,52.68 L412.85,52.73 L413.10,52.77 L413.35,52.81 L413.60,52.85 L413.85,52.88 L414.10,52.91 L414.35,52.94 L414.60,52.96 L414.85,52.99 L415.10,53.01 L415.35,53.03 L415.60,53.04 L415.85,53.06 L416.10,53.07 L416.35,53.08 L416.40,52.70 L416.70,51.60 L416.94,47.80 L417.16,44.00 L417.36,40.20 L417.53,36.40 L417.69,32.60 L417.82,28.80 L417.94,25.00 L418.03,21.20 L418.11,17.40 L418.16,13.60 L418.19,9.80 L418.20,6.00 L418.80,6.00 L418.81,9.48 L418.84,12.97 L418.89,16.45 L418.97,19.93 L419.06,23.42 L419.18,26.90 L419.31,30.38 L419.47,33.86 L419.64,37.35 L419.84,40.83 L420.06,44.31 L420.30,47.80 L420.65,48.90 L420.90,50.58 L421.15,50.97 L421.40,51.30 L421.65,51.58 L421.90,51.82 L422.15,52.02 L422.40,52.18 L422.65,52.32 L422.90,52.43 L423.15,52.53 L423.40,52.60 L423.65,52.67 L423.90,52.72 L424.15,52.76 L424.40,52.79 L424.65,52.82 L424.90,52.83 L425.15,52.85 L425.40,52.86 L425.65,52.87 L425.90,52.87 L426.15,52.88 L426.40,52.88 L426.65,52.88 L426.90,52.88 L427.15,52.88 L427.40,52.88 L427.65,52.88 L427.90,52.88 L428.15,52.88 L428.40,52.88 L428.65,52.88 L428.90,52.89 L429.15,52.89 L429.40,52.90 L429.65,52.91 L429.90,52.91 L430.15,52.92 L430.40,52.93 L430.65,52.94 L431.40,52.98 L432.15,53.02 L432.90,53.07 L433.65,53.11 L434.40,53.15 L435.15,53.18 L435.90,53.21 L436.65,53.24 L437.40,53.26 L438.15,53.27 L438.90,53.28 L439.65,53.29 L440.40,53.29 L441.15,53.30 L441.90,53.30 L442.65,53.30 L443.40,53.30 L444.15,53.30 L444.90,53.30 L445.65,53.30 L446.40,53.30 L447.15,53.30 L447.90,53.30 L448.65,53.30 L449.40,53.30 L450.15,53.30 L450.90,53.30 L451.65,53.30 L452.40,53.30 L453.15,53.30 L453.90,53.30" fill="none" stroke="#111" stroke-width="0.95" stroke-linejoin="round"/><path d="M406.80,43.70 H417.60 M406.80,42.60 V44.80 M417.60,42.60 V44.80" stroke="#222" stroke-width="1.1" fill="none"/><path d="M421.60,40.10 H444.50 M421.60,39.00 V41.20 M444.50,39.00 V41.20" stroke="#222" stroke-width="1.1" fill="none"/><text x="411.50" y="33.30" font-size="9.8" font-weight="normal" text-anchor="middle" fill="#000" stroke="#000" stroke-width="0.25">13</text><text x="436.10" y="35.40" font-size="15.6" font-weight="normal" text-anchor="middle" fill="#000" stroke="#000" stroke-width="0.1">1.5</text><rect x="466.40" y="4.70" width="50.20" height="50.50" fill="none" stroke="#222" stroke-width="1"/><line x1="465.50" y1="6.70" x2="465.50" y2="55.20" stroke="#444" stroke-width="0.8" stroke-dasharray="0.5 1.3"/><line x1="466.40" y1="56.10" x2="516.60" y2="56.10" stroke="#444" stroke-width="0.8" stroke-dasharray="0.5 1.3"/><line x1="464.60" y1="12.80" x2="466.40" y2="12.80" stroke="#222" stroke-width="0.9"/><text x="465.60" y="13.90" font-size="3.2" font-weight="bold" text-anchor="end" fill="#111" >600</text><line x1="464.60" y1="26.93" x2="466.40" y2="26.93" stroke="#222" stroke-width="0.9"/><text x="465.60" y="28.03" font-size="3.2" font-weight="bold" text-anchor="end" fill="#111" >400</text><line x1="464.60" y1="41.07" x2="466.40" y2="41.07" stroke="#222" stroke-width="0.9"/><text x="465.60" y="42.17" font-size="3.2" font-weight="bold" text-anchor="end" fill="#111" >200</text><text x="465.60" y="56.30" font-size="3.1" font-weight="bold" text-anchor="end" fill="#333" >0</text><line x1="466.40" y1="55.20" x2="466.40" y2="57.00" stroke="#222" stroke-width="0.9"/><text x="466.40" y="60.20" font-size="3.4" font-weight="bold" text-anchor="middle" fill="#111" >0</text><line x1="476.44" y1="55.20" x2="476.44" y2="57.00" stroke="#222" stroke-width="0.9"/><text x="476.44" y="60.20" font-size="3.4" font-weight="bold" text-anchor="middle" fill="#111" >200</text><line x1="486.48" y1="55.20" x2="486.48" y2="57.00" stroke="#222" stroke-width="0.9"/><text x="486.48" y="60.20" font-size="3.4" font-weight="bold" text-anchor="middle" fill="#111" >400</text><line x1="496.52" y1="55.20" x2="496.52" y2="57.00" stroke="#222" stroke-width="0.9"/><text x="496.52" y="60.20" font-size="3.4" font-weight="bold" text-anchor="middle" fill="#111" >600</text><line x1="506.56" y1="55.20" x2="506.56" y2="57.00" stroke="#222" stroke-width="0.9"/><text x="506.56" y="60.20" font-size="3.4" font-weight="bold" text-anchor="middle" fill="#111" >800</text><line x1="516.60" y1="55.20" x2="516.60" y2="57.00" stroke="#222" stroke-width="0.9"/><text x="516.60" y="60.20" font-size="3.4" font-weight="bold" text-anchor="middle" fill="#111" >1000</text><text x="491.50" y="63.60" font-size="3.3" font-weight="bold" text-anchor="middle" fill="#222" >FL2-A</text><path d="M479.10,53.50 L479.40,52.40 L479.64,48.71 L479.86,45.02 L480.06,41.32 L480.23,37.63 L480.39,33.94 L480.52,30.25 L480.64,26.56 L480.73,22.87 L480.81,19.17 L480.86,15.48 L480.89,11.79 L480.90,8.10 L481.50,8.10 L481.51,11.47 L481.54,14.84 L481.59,18.21 L481.67,21.57 L481.76,24.94 L481.88,28.31 L482.01,31.68 L482.17,35.05 L482.34,38.42 L482.54,41.78 L482.76,45.15 L483.00,48.52 L483.35,49.62 L483.35,54.00 L479.10,54.00 Z" fill="#9a9a9a" stroke="none"/><path d="M467.20,53.90 L467.45,53.90 L467.70,53.90 L467.95,53.90 L468.20,53.90 L468.45,53.90 L468.70,53.90 L468.95,53.90 L469.20,53.90 L469.45,53.90 L469.70,53.90 L469.95,53.90 L470.20,53.90 L470.45,53.90 L470.70,53.90 L470.95,53.90 L471.20,53.90 L471.45,53.90 L471.70,53.90 L471.95,53.90 L472.20,53.90 L472.45,53.90 L472.70,53.90 L472.95,53.90 L473.20,53.90 L473.45,53.90 L473.70,53.90 L473.95,53.90 L474.20,53.90 L474.45,53.90 L474.70,53.90 L474.95,53.90 L475.20,53.90 L475.45,53.90 L475.70,53.90 L475.95,53.90 L476.20,53.90 L476.45,53.90 L476.70,53.90 L476.95,53.90 L477.20,53.90 L477.45,53.90 L477.70,53.90 L477.95,53.90 L478.20,53.90 L478.45,53.90 L478.70,53.90 L478.95,53.90 L479.10,53.50 L479.40,52.40 L479.64,48.71 L479.86,45.02 L480.06,41.32 L480.23,37.63 L480.39,33.94 L480.52,30.25 L480.64,26.56 L480.73,22.87 L480.81,19.17 L480.86,15.48 L480.89,11.79 L480.90,8.10 L481.50,8.10 L481.51,11.47 L481.54,14.84 L481.59,18.21 L481.67,21.57 L481.76,24.94 L481.88,28.31 L482.01,31.68 L482.17,35.05 L482.34,38.42 L482.54,41.78 L482.76,45.15 L483.00,48.52 L483.35,49.62 L483.60,51.29 L483.85,51.69 L484.10,52.02 L484.35,52.30 L484.60,52.53 L484.85,52.73 L485.10,52.89 L485.35,53.03 L485.60,53.14 L485.85,53.23 L486.10,53.31 L486.35,53.37 L486.60,53.42 L486.85,53.46 L487.10,53.49 L487.35,53.52 L487.60,53.54 L487.85,53.55 L488.10,53.56 L488.35,53.57 L488.60,53.57 L488.85,53.58 L489.10,53.58 L489.35,53.58 L489.60,53.58 L489.85,53.58 L490.10,53.58 L490.35,53.58 L490.60,53.58 L490.85,53.58 L491.10,53.58 L491.35,53.59 L491.60,53.59 L491.85,53.59 L492.10,53.60 L492.35,53.61 L492.60,53.61 L492.85,53.62 L493.10,53.63 L493.35,53.64 L494.10,53.68 L494.85,53.72 L495.60,53.77 L496.35,53.81 L497.10,53.85 L497.85,53.88 L498.60,53.91 L499.35,53.94 L500.10,53.96 L500.85,53.97 L501.60,53.98 L502.35,53.99 L503.10,53.99 L503.85,54.00 L504.60,54.00 L505.35,54.00 L506.10,54.00 L506.85,54.00 L507.60,54.00 L508.35,54.00 L509.10,54.00 L509.85,54.00 L510.60,54.00 L511.35,54.00 L512.10,54.00 L512.85,54.00 L513.60,54.00 L514.35,54.00 L515.10,54.00" fill="none" stroke="#111" stroke-width="0.95" stroke-linejoin="round"/><path d="M468.20,44.40 H478.90 M468.20,43.30 V45.50 M478.90,43.30 V45.50" stroke="#222" stroke-width="1.1" fill="none"/><path d="M483.60,41.00 H505.90 M483.60,39.90 V42.10 M505.90,39.90 V42.10" stroke="#222" stroke-width="1.1" fill="none"/><text x="473.35" y="35.00" font-size="9.8" font-weight="normal" text-anchor="middle" fill="#000" stroke="#000" stroke-width="0.25">6.2</text><text x="497.80" y="36.00" font-size="15.6" font-weight="normal" text-anchor="middle" fill="#000" stroke="#000" stroke-width="0.1">0.4</text><rect x="41.10" y="67.80" width="49.80" height="50.70" fill="none" stroke="#222" stroke-width="1"/><line x1="40.20" y1="69.80" x2="40.20" y2="118.50" stroke="#444" stroke-width="0.8" stroke-dasharray="0.5 1.3"/><line x1="41.10" y1="119.40" x2="90.90" y2="119.40" stroke="#444" stroke-width="0.8" stroke-dasharray="0.5 1.3"/><line x1="39.30" y1="73.76" x2="41.10" y2="73.76" stroke="#222" stroke-width="0.9"/><text x="40.30" y="74.86" font-size="3.2" font-weight="bold" text-anchor="end" fill="#111" >600</text><line x1="39.30" y1="88.68" x2="41.10" y2="88.68" stroke="#222" stroke-width="0.9"/><text x="40.30" y="89.78" font-size="3.2" font-weight="bold" text-anchor="end" fill="#111" >400</text><line x1="39.30" y1="103.59" x2="41.10" y2="103.59" stroke="#222" stroke-width="0.9"/><text x="40.30" y="104.69" font-size="3.2" font-weight="bold" text-anchor="end" fill="#111" >200</text><text x="40.30" y="119.60" font-size="3.1" font-weight="bold" text-anchor="end" fill="#333" >0</text><line x1="41.10" y1="118.50" x2="41.10" y2="120.30" stroke="#222" stroke-width="0.9"/><text x="41.10" y="123.50" font-size="3.4" font-weight="bold" text-anchor="middle" fill="#111" >0</text><line x1="51.06" y1="118.50" x2="51.06" y2="120.30" stroke="#222" stroke-width="0.9"/><text x="51.06" y="123.50" font-size="3.4" font-weight="bold" text-anchor="middle" fill="#111" >200</text><line x1="61.02" y1="118.50" x2="61.02" y2="120.30" stroke="#222" stroke-width="0.9"/><text x="61.02" y="123.50" font-size="3.4" font-weight="bold" text-anchor="middle" fill="#111" >400</text><line x1="70.98" y1="118.50" x2="70.98" y2="120.30" stroke="#222" stroke-width="0.9"/><text x="70.98" y="123.50" font-size="3.4" font-weight="bold" text-anchor="middle" fill="#111" >600</text><line x1="80.94" y1="118.50" x2="80.94" y2="120.30" stroke="#222" stroke-width="0.9"/><text x="80.94" y="123.50" font-size="3.4" font-weight="bold" text-anchor="middle" fill="#111" >800</text><line x1="90.90" y1="118.50" x2="90.90" y2="120.30" stroke="#222" stroke-width="0.9"/><text x="90.90" y="123.50" font-size="3.4" font-weight="bold" text-anchor="middle" fill="#111" >1000</text><text x="66.00" y="126.90" font-size="3.3" font-weight="bold" text-anchor="middle" fill="#222" >FL2-A</text><path d="M53.10,116.80 L53.40,115.70 L53.64,111.93 L53.86,108.17 L54.06,104.40 L54.23,100.63 L54.39,96.87 L54.53,93.10 L54.64,89.33 L54.73,85.57 L54.81,81.80 L54.86,78.03 L54.89,74.27 L54.90,70.50 L55.50,70.50 L55.51,73.94 L55.54,77.39 L55.59,80.83 L55.67,84.27 L55.76,87.72 L55.88,91.16 L56.01,94.60 L56.17,98.05 L56.34,101.49 L56.54,104.93 L56.76,108.38 L57.00,111.82 L57.35,112.92 L57.35,117.30 L53.10,117.30 Z" fill="#9a9a9a" stroke="none"/><path d="M41.90,117.20 L42.15,117.20 L42.40,117.20 L42.65,117.20 L42.90,117.20 L43.15,117.20 L43.40,117.20 L43.65,117.20 L43.90,117.20 L44.15,117.20 L44.40,117.20 L44.65,117.20 L44.90,117.20 L45.15,117.20 L45.40,117.20 L45.65,117.20 L45.90,117.20 L46.15,117.20 L46.40,117.20 L46.65,117.20 L46.90,117.20 L47.15,117.20 L47.40,117.20 L47.65,117.20 L47.90,117.20 L48.15,117.20 L48.40,117.20 L48.65,117.20 L48.90,117.20 L49.15,117.20 L49.40,117.20 L49.65,117.20 L49.90,117.20 L50.15,117.20 L50.40,117.20 L50.65,117.20 L50.90,117.20 L51.15,117.20 L51.40,117.20 L51.65,117.20 L51.90,117.20 L52.15,117.20 L52.40,117.20 L52.65,117.20 L52.90,117.20 L53.10,116.80 L53.40,115.70 L53.64,111.93 L53.86,108.17 L54.06,104.40 L54.23,100.63 L54.39,96.87 L54.53,93.10 L54.64,89.33 L54.73,85.57 L54.81,81.80 L54.86,78.03 L54.89,74.27 L54.90,70.50 L55.50,70.50 L55.51,73.94 L55.54,77.39 L55.59,80.83 L55.67,84.27 L55.76,87.72 L55.88,91.16 L56.01,94.60 L56.17,98.05 L56.34,101.49 L56.54,104.93 L56.76,108.38 L57.00,111.82 L57.35,112.92 L57.60,114.59 L57.85,114.99 L58.10,115.32 L58.35,115.60 L58.60,115.83 L58.85,116.03 L59.10,116.19 L59.35,116.33 L59.60,116.44 L59.85,116.53 L60.10,116.61 L60.35,116.67 L60.60,116.72 L60.85,116.76 L61.10,116.79 L61.35,116.82 L61.60,116.84 L61.85,116.85 L62.10,116.86 L62.35,116.87 L62.60,116.87 L62.85,116.88 L63.10,116.88 L63.35,116.88 L63.60,116.88 L63.85,116.88 L64.10,116.88 L64.35,116.88 L64.60,116.88 L64.85,116.88 L65.10,116.88 L65.35,116.89 L65.60,116.89 L65.85,116.89 L66.10,116.90 L66.35,116.91 L66.60,116.91 L66.85,116.92 L67.10,116.93 L67.35,116.94 L68.10,116.98 L68.85,117.02 L69.60,117.07 L70.35,117.11 L71.10,117.15 L71.85,117.18 L72.60,117.21 L73.35,117.24 L74.10,117.26 L74.85,117.27 L75.60,117.28 L76.35,117.29 L77.10,117.29 L77.85,117.30 L78.60,117.30 L79.35,117.30 L80.10,117.30 L80.85,117.30 L81.60,117.30 L82.35,117.30 L83.10,117.30 L83.85,117.30 L84.60,117.30 L85.35,117.30 L86.10,117.30 L86.85,117.30 L87.60,117.30 L88.35,117.30 L89.10,117.30 L89.85,117.30" fill="none" stroke="#111" stroke-width="0.95" stroke-linejoin="round"/><path d="M42.00,107.40 H53.20 M42.00,106.30 V108.50 M53.20,106.30 V108.50" stroke="#222" stroke-width="1.1" fill="none"/><path d="M58.10,103.70 H80.80 M58.10,102.60 V104.80 M80.80,102.60 V104.80" stroke="#222" stroke-width="1.1" fill="none"/><text x="48.30" y="100.10" font-size="9.8" font-weight="normal" text-anchor="middle" fill="#000" stroke="#000" stroke-width="0.25">7.4</text><text x="72.15" y="100.10" font-size="15.6" font-weight="normal" text-anchor="middle" fill="#000" stroke="#000" stroke-width="0.1">0.4</text><rect x="102.80" y="71.00" width="49.80" height="49.60" fill="none" stroke="#222" stroke-width="1"/><line x1="101.90" y1="73.00" x2="101.90" y2="120.60" stroke="#444" stroke-width="0.8" stroke-dasharray="0.5 1.3"/><line x1="102.80" y1="121.50" x2="152.60" y2="121.50" stroke="#444" stroke-width="0.8" stroke-dasharray="0.5 1.3"/><line x1="101.00" y1="71.80" x2="102.80" y2="71.80" stroke="#222" stroke-width="0.9"/><text x="102.00" y="72.90" font-size="3.2" font-weight="bold" text-anchor="end" fill="#111" >400</text><line x1="101.00" y1="84.00" x2="102.80" y2="84.00" stroke="#222" stroke-width="0.9"/><text x="102.00" y="85.10" font-size="3.2" font-weight="bold" text-anchor="end" fill="#111" >300</text><line x1="101.00" y1="96.20" x2="102.80" y2="96.20" stroke="#222" stroke-width="0.9"/><text x="102.00" y="97.30" font-size="3.2" font-weight="bold" text-anchor="end" fill="#111" >200</text><line x1="101.00" y1="108.40" x2="102.80" y2="108.40" stroke="#222" stroke-width="0.9"/><text x="102.00" y="109.50" font-size="3.2" font-weight="bold" text-anchor="end" fill="#111" >100</text><text x="102.00" y="121.70" font-size="3.1" font-weight="bold" text-anchor="end" fill="#333" >0</text><line x1="102.80" y1="120.60" x2="102.80" y2="122.40" stroke="#222" stroke-width="0.9"/><text x="102.80" y="125.60" font-size="3.4" font-weight="bold" text-anchor="middle" fill="#111" >0</text><line x1="112.76" y1="120.60" x2="112.76" y2="122.40" stroke="#222" stroke-width="0.9"/><text x="112.76" y="125.60" font-size="3.4" font-weight="bold" text-anchor="middle" fill="#111" >200</text><line x1="122.72" y1="120.60" x2="122.72" y2="122.40" stroke="#222" stroke-width="0.9"/><text x="122.72" y="125.60" font-size="3.4" font-weight="bold" text-anchor="middle" fill="#111" >400</text><line x1="132.68" y1="120.60" x2="132.68" y2="122.40" stroke="#222" stroke-width="0.9"/><text x="132.68" y="125.60" font-size="3.4" font-weight="bold" text-anchor="middle" fill="#111" >600</text><line x1="142.64" y1="120.60" x2="142.64" y2="122.40" stroke="#222" stroke-width="0.9"/><text x="142.64" y="125.60" font-size="3.4" font-weight="bold" text-anchor="middle" fill="#111" >800</text><line x1="152.60" y1="120.60" x2="152.60" y2="122.40" stroke="#222" stroke-width="0.9"/><text x="152.60" y="125.60" font-size="3.4" font-weight="bold" text-anchor="middle" fill="#111" >1000</text><text x="127.70" y="129.00" font-size="3.3" font-weight="bold" text-anchor="middle" fill="#222" >FL2-A</text><path d="M115.20,117.60 L115.50,116.50 L115.74,112.92 L115.96,109.33 L116.16,105.75 L116.33,102.17 L116.49,98.58 L116.62,95.00 L116.74,91.42 L116.83,87.83 L116.91,84.25 L116.96,80.67 L116.99,77.08 L117.00,73.50 L117.60,73.50 L117.61,76.87 L117.64,80.24 L117.69,83.61 L117.77,86.97 L117.86,90.34 L117.97,93.71 L118.11,97.08 L118.27,100.45 L118.44,103.82 L118.64,107.18 L118.86,110.55 L119.10,113.92 L119.45,115.02 L119.45,119.40 L115.20,119.40 Z" fill="#9a9a9a" stroke="none"/><path d="M103.60,118.00 L103.85,118.00 L104.10,118.00 L104.35,118.00 L104.60,118.00 L104.85,117.99 L105.10,117.96 L105.35,117.87 L105.60,117.71 L105.85,117.47 L106.10,117.26 L106.35,117.23 L106.60,117.35 L106.85,117.45 L107.10,117.53 L107.35,117.60 L107.60,117.66 L107.85,117.72 L108.10,117.76 L108.35,117.80 L108.60,117.83 L108.85,117.85 L109.10,117.88 L109.35,117.90 L109.60,117.91 L109.85,117.92 L110.10,117.94 L110.35,117.95 L110.60,117.95 L110.85,117.96 L111.10,117.97 L111.35,117.97 L111.60,117.98 L111.85,117.98 L112.10,117.98 L112.35,117.99 L112.60,117.99 L112.85,117.99 L113.10,117.99 L113.35,117.99 L113.60,117.99 L113.85,117.99 L114.10,118.00 L114.35,118.00 L114.60,118.00 L114.85,118.00 L115.10,118.00 L115.20,117.60 L115.50,116.50 L115.74,112.92 L115.96,109.33 L116.16,105.75 L116.33,102.17 L116.49,98.58 L116.62,95.00 L116.74,91.42 L116.83,87.83 L116.91,84.25 L116.96,80.67 L116.99,77.08 L117.00,73.50 L117.60,73.50 L117.61,76.87 L117.64,80.24 L117.69,83.61 L117.77,86.97 L117.86,90.34 L117.97,93.71 L118.11,97.08 L118.27,100.45 L118.44,103.82 L118.64,107.18 L118.86,110.55 L119.10,113.92 L119.45,115.02 L119.70,116.69 L119.95,117.09 L120.20,117.42 L120.45,117.70 L120.70,117.93 L120.95,118.13 L121.20,118.29 L121.45,118.43 L121.70,118.54 L121.95,118.63 L122.20,118.71 L122.45,118.77 L122.70,118.82 L122.95,118.86 L123.20,118.89 L123.45,118.92 L123.70,118.94 L123.95,118.95 L124.20,118.96 L124.45,118.97 L124.70,118.97 L124.95,118.98 L125.20,118.98 L125.45,118.98 L125.70,118.98 L125.95,118.98 L126.20,118.98 L126.45,118.98 L126.70,118.98 L126.95,118.98 L127.20,118.98 L127.45,118.99 L127.70,118.99 L127.95,118.99 L128.20,119.00 L128.45,119.01 L128.70,119.01 L128.95,119.02 L129.20,119.03 L129.45,119.04 L130.20,119.08 L130.95,119.12 L131.70,119.17 L132.45,119.21 L133.20,119.25 L133.95,119.28 L134.70,119.31 L135.45,119.34 L136.20,119.36 L136.95,119.37 L137.70,119.38 L138.45,119.39 L139.20,119.39 L139.95,119.40 L140.70,119.40 L141.45,119.40 L142.20,119.40 L142.95,119.40 L143.70,119.40 L144.45,119.40 L145.20,119.40 L145.95,119.40 L146.70,119.40 L147.45,119.40 L148.20,119.40 L148.95,119.40 L149.70,119.40 L150.45,119.40 L151.20,119.40" fill="none" stroke="#111" stroke-width="0.95" stroke-linejoin="round"/><path d="M104.50,110.10 H114.90 M104.50,109.00 V111.20 M114.90,109.00 V111.20" stroke="#222" stroke-width="1.1" fill="none"/><path d="M119.90,106.80 H142.20 M119.90,105.70 V107.90 M142.20,105.70 V107.90" stroke="#222" stroke-width="1.1" fill="none"/><text x="110.20" y="105.50" font-size="9.8" font-weight="normal" text-anchor="middle" fill="#000" stroke="#000" stroke-width="0.25">20</text><text x="134.20" y="103.00" font-size="15.6" font-weight="normal" text-anchor="middle" fill="#000" stroke="#000" stroke-width="0.1">1.5</text><rect x="164.80" y="71.80" width="50.90" height="50.10" fill="none" stroke="#222" stroke-width="1"/><line x1="163.90" y1="73.80" x2="163.90" y2="121.90" stroke="#444" stroke-width="0.8" stroke-dasharray="0.5 1.3"/><line x1="164.80" y1="122.80" x2="215.70" y2="122.80" stroke="#444" stroke-width="0.8" stroke-dasharray="0.5 1.3"/><line x1="163.00" y1="75.51" x2="164.80" y2="75.51" stroke="#222" stroke-width="0.9"/><text x="164.00" y="76.61" font-size="3.2" font-weight="bold" text-anchor="end" fill="#111" >500</text><line x1="163.00" y1="84.79" x2="164.80" y2="84.79" stroke="#222" stroke-width="0.9"/><text x="164.00" y="85.89" font-size="3.2" font-weight="bold" text-anchor="end" fill="#111" >400</text><line x1="163.00" y1="94.07" x2="164.80" y2="94.07" stroke="#222" stroke-width="0.9"/><text x="164.00" y="95.17" font-size="3.2" font-weight="bold" text-anchor="end" fill="#111" >300</text><line x1="163.00" y1="103.34" x2="164.80" y2="103.34" stroke="#222" stroke-width="0.9"/><text x="164.00" y="104.44" font-size="3.2" font-weight="bold" text-anchor="end" fill="#111" >200</text><line x1="163.00" y1="112.62" x2="164.80" y2="112.62" stroke="#222" stroke-width="0.9"/><text x="164.00" y="113.72" font-size="3.2" font-weight="bold" text-anchor="end" fill="#111" >100</text><text x="164.00" y="123.00" font-size="3.1" font-weight="bold" text-anchor="end" fill="#333" >0</text><line x1="164.80" y1="121.90" x2="164.80" y2="123.70" stroke="#222" stroke-width="0.9"/><text x="164.80" y="126.90" font-size="3.4" font-weight="bold" text-anchor="middle" fill="#111" >0</text><line x1="174.98" y1="121.90" x2="174.98" y2="123.70" stroke="#222" stroke-width="0.9"/><text x="174.98" y="126.90" font-size="3.4" font-weight="bold" text-anchor="middle" fill="#111" >200</text><line x1="185.16" y1="121.90" x2="185.16" y2="123.70" stroke="#222" stroke-width="0.9"/><text x="185.16" y="126.90" font-size="3.4" font-weight="bold" text-anchor="middle" fill="#111" >400</text><line x1="195.34" y1="121.90" x2="195.34" y2="123.70" stroke="#222" stroke-width="0.9"/><text x="195.34" y="126.90" font-size="3.4" font-weight="bold" text-anchor="middle" fill="#111" >600</text><line x1="205.52" y1="121.90" x2="205.52" y2="123.70" stroke="#222" stroke-width="0.9"/><text x="205.52" y="126.90" font-size="3.4" font-weight="bold" text-anchor="middle" fill="#111" >800</text><line x1="215.70" y1="121.90" x2="215.70" y2="123.70" stroke="#222" stroke-width="0.9"/><text x="215.70" y="126.90" font-size="3.4" font-weight="bold" text-anchor="middle" fill="#111" >1000</text><text x="190.25" y="130.30" font-size="3.3" font-weight="bold" text-anchor="middle" fill="#222" >FL2-A</text><path d="M176.80,119.71 L177.10,118.61 L177.34,114.90 L177.56,111.19 L177.76,107.48 L177.93,103.77 L178.09,100.07 L178.22,96.36 L178.34,92.65 L178.43,88.94 L178.51,85.23 L178.56,81.52 L178.59,77.81 L178.60,74.10 L179.20,74.10 L179.21,77.51 L179.24,80.92 L179.29,84.34 L179.37,87.75 L179.46,91.16 L179.58,94.57 L179.71,97.99 L179.87,101.40 L180.04,104.81 L180.24,108.22 L180.46,111.63 L180.70,115.05 L181.05,116.15 L181.05,120.70 L176.80,120.70 Z" fill="#9a9a9a" stroke="none"/><path d="M165.60,120.60 L165.85,120.60 L166.10,120.60 L166.35,120.59 L166.60,120.57 L166.85,120.45 L167.10,120.08 L167.35,119.18 L167.60,117.63 L167.85,115.77 L168.10,114.53 L168.35,114.66 L168.60,115.07 L168.85,115.45 L169.10,115.81 L169.35,116.14 L169.60,116.44 L169.85,116.73 L170.10,117.00 L170.35,117.25 L170.60,117.48 L170.85,117.69 L171.10,117.89 L171.35,118.08 L171.60,118.25 L171.85,118.41 L172.10,118.57 L172.35,118.71 L172.60,118.84 L172.85,118.96 L173.10,119.07 L173.35,119.18 L173.60,119.27 L173.85,119.37 L174.10,119.45 L174.35,119.53 L174.60,119.60 L174.85,119.67 L175.10,119.74 L175.35,119.80 L175.60,119.85 L175.85,119.90 L176.10,119.95 L176.35,120.00 L176.60,120.04 L176.80,119.71 L177.10,118.61 L177.34,114.90 L177.56,111.19 L177.76,107.48 L177.93,103.77 L178.09,100.07 L178.22,96.36 L178.34,92.65 L178.43,88.94 L178.51,85.23 L178.56,81.52 L178.59,77.81 L178.60,74.10 L179.20,74.10 L179.21,77.51 L179.24,80.92 L179.29,84.34 L179.37,87.75 L179.46,91.16 L179.58,94.57 L179.71,97.99 L179.87,101.40 L180.04,104.81 L180.24,108.22 L180.46,111.63 L180.70,115.05 L181.05,116.15 L181.30,117.85 L181.55,118.25 L181.80,118.59 L182.05,118.88 L182.30,119.12 L182.55,119.33 L182.80,119.50 L183.05,119.64 L183.30,119.76 L183.55,119.86 L183.80,119.94 L184.05,120.01 L184.30,120.06 L184.55,120.10 L184.80,120.14 L185.05,120.17 L185.30,120.19 L185.55,120.21 L185.80,120.22 L186.05,120.23 L186.30,120.24 L186.55,120.24 L186.80,120.25 L187.05,120.25 L187.30,120.25 L187.55,120.25 L187.80,120.26 L188.05,120.26 L188.30,120.26 L188.55,120.26 L188.80,120.27 L189.05,120.27 L189.30,120.27 L189.55,120.28 L189.80,120.29 L190.05,120.29 L190.30,120.30 L190.55,120.31 L190.80,120.32 L191.05,120.34 L191.80,120.37 L192.55,120.42 L193.30,120.46 L194.05,120.50 L194.80,120.54 L195.55,120.58 L196.30,120.61 L197.05,120.64 L197.80,120.65 L198.55,120.67 L199.30,120.68 L200.05,120.69 L200.80,120.69 L201.55,120.69 L202.30,120.70 L203.05,120.70 L203.80,120.70 L204.55,120.70 L205.30,120.70 L206.05,120.70 L206.80,120.70 L207.55,120.70 L208.30,120.70 L209.05,120.70 L209.80,120.70 L210.55,120.70 L211.30,120.70 L212.05,120.70 L212.80,120.70 L213.55,120.70 L214.30,120.70" fill="none" stroke="#111" stroke-width="0.95" stroke-linejoin="round"/><path d="M166.80,111.10 H177.60 M166.80,110.00 V112.20 M177.60,110.00 V112.20" stroke="#222" stroke-width="1.1" fill="none"/><path d="M182.30,107.80 H204.50 M182.30,106.70 V108.90 M204.50,106.70 V108.90" stroke="#222" stroke-width="1.1" fill="none"/><text x="171.85" y="104.80" font-size="9.8" font-weight="normal" text-anchor="middle" fill="#000" stroke="#000" stroke-width="0.25">24</text><text x="197.45" y="103.40" font-size="15.6" font-weight="normal" text-anchor="middle" fill="#000" stroke="#000" stroke-width="0.1">4.4</text><rect x="226.20" y="70.10" width="50.40" height="50.50" fill="none" stroke="#222" stroke-width="1"/><line x1="225.30" y1="72.10" x2="225.30" y2="120.60" stroke="#444" stroke-width="0.8" stroke-dasharray="0.5 1.3"/><line x1="226.20" y1="121.50" x2="276.60" y2="121.50" stroke="#444" stroke-width="0.8" stroke-dasharray="0.5 1.3"/><line x1="224.40" y1="73.84" x2="226.20" y2="73.84" stroke="#222" stroke-width="0.9"/><text x="225.40" y="74.94" font-size="3.2" font-weight="bold" text-anchor="end" fill="#111" >250</text><line x1="224.40" y1="83.19" x2="226.20" y2="83.19" stroke="#222" stroke-width="0.9"/><text x="225.40" y="84.29" font-size="3.2" font-weight="bold" text-anchor="end" fill="#111" >200</text><line x1="224.40" y1="92.54" x2="226.20" y2="92.54" stroke="#222" stroke-width="0.9"/><text x="225.40" y="93.64" font-size="3.2" font-weight="bold" text-anchor="end" fill="#111" >150</text><line x1="224.40" y1="101.90" x2="226.20" y2="101.90" stroke="#222" stroke-width="0.9"/><text x="225.40" y="103.00" font-size="3.2" font-weight="bold" text-anchor="end" fill="#111" >100</text><line x1="224.40" y1="111.25" x2="226.20" y2="111.25" stroke="#222" stroke-width="0.9"/><text x="225.40" y="112.35" font-size="3.2" font-weight="bold" text-anchor="end" fill="#111" >50</text><text x="225.40" y="121.70" font-size="3.1" font-weight="bold" text-anchor="end" fill="#333" >0</text><line x1="226.20" y1="120.60" x2="226.20" y2="122.40" stroke="#222" stroke-width="0.9"/><text x="226.20" y="125.60" font-size="3.4" font-weight="bold" text-anchor="middle" fill="#111" >0</text><line x1="236.28" y1="120.60" x2="236.28" y2="122.40" stroke="#222" stroke-width="0.9"/><text x="236.28" y="125.60" font-size="3.4" font-weight="bold" text-anchor="middle" fill="#111" >200</text><line x1="246.36" y1="120.60" x2="246.36" y2="122.40" stroke="#222" stroke-width="0.9"/><text x="246.36" y="125.60" font-size="3.4" font-weight="bold" text-anchor="middle" fill="#111" >400</text><line x1="256.44" y1="120.60" x2="256.44" y2="122.40" stroke="#222" stroke-width="0.9"/><text x="256.44" y="125.60" font-size="3.4" font-weight="bold" text-anchor="middle" fill="#111" >600</text><line x1="266.52" y1="120.60" x2="266.52" y2="122.40" stroke="#222" stroke-width="0.9"/><text x="266.52" y="125.60" font-size="3.4" font-weight="bold" text-anchor="middle" fill="#111" >800</text><line x1="276.60" y1="120.60" x2="276.60" y2="122.40" stroke="#222" stroke-width="0.9"/><text x="276.60" y="125.60" font-size="3.4" font-weight="bold" text-anchor="middle" fill="#111" >1000</text><text x="251.40" y="129.00" font-size="3.3" font-weight="bold" text-anchor="middle" fill="#222" >FL2-A</text><path d="M238.90,118.09 L239.20,116.99 L239.44,113.27 L239.66,109.56 L239.86,105.84 L240.03,102.12 L240.19,98.41 L240.32,94.69 L240.44,90.98 L240.53,87.26 L240.61,83.55 L240.66,79.83 L240.69,76.12 L240.70,72.40 L241.30,72.40 L241.31,75.84 L241.34,79.27 L241.39,82.71 L241.47,86.14 L241.56,89.58 L241.68,93.02 L241.81,96.45 L241.97,99.89 L242.14,103.32 L242.34,106.76 L242.56,110.19 L242.80,113.63 L243.15,114.73 L243.15,119.40 L238.90,119.40 Z" fill="#9a9a9a" stroke="none"/><path d="M227.00,119.30 L227.25,119.30 L227.50,119.30 L227.75,119.27 L228.00,119.17 L228.25,118.76 L228.50,117.61 L228.75,115.18 L229.00,111.50 L229.25,107.86 L229.50,106.30 L229.75,107.20 L230.00,108.03 L230.25,108.81 L230.50,109.53 L230.75,110.20 L231.00,110.83 L231.25,111.42 L231.50,111.96 L231.75,112.46 L232.00,112.94 L232.25,113.37 L232.50,113.78 L232.75,114.16 L233.00,114.52 L233.25,114.85 L233.50,115.15 L233.75,115.44 L234.00,115.71 L234.25,115.95 L234.50,116.18 L234.75,116.40 L235.00,116.60 L235.25,116.79 L235.50,116.96 L235.75,117.12 L236.00,117.27 L236.25,117.41 L236.50,117.54 L236.75,117.66 L237.00,117.77 L237.25,117.88 L237.50,117.98 L237.75,118.07 L238.00,118.15 L238.25,118.23 L238.50,118.31 L238.75,118.37 L238.90,118.09 L239.20,116.99 L239.44,113.27 L239.66,109.56 L239.86,105.84 L240.03,102.12 L240.19,98.41 L240.32,94.69 L240.44,90.98 L240.53,87.26 L240.61,83.55 L240.66,79.83 L240.69,76.12 L240.70,72.40 L241.30,72.40 L241.31,75.84 L241.34,79.27 L241.39,82.71 L241.47,86.14 L241.56,89.58 L241.68,93.02 L241.81,96.45 L241.97,99.89 L242.14,103.32 L242.34,106.76 L242.56,110.19 L242.80,113.63 L243.15,114.73 L243.40,116.45 L243.65,116.86 L243.90,117.21 L244.15,117.50 L244.40,117.75 L244.65,117.96 L244.90,118.13 L245.15,118.28 L245.40,118.40 L245.65,118.50 L245.90,118.59 L246.15,118.66 L246.40,118.72 L246.65,118.77 L246.90,118.80 L247.15,118.84 L247.40,118.86 L247.65,118.88 L247.90,118.90 L248.15,118.91 L248.40,118.92 L248.65,118.92 L248.90,118.93 L249.15,118.93 L249.40,118.94 L249.65,118.94 L249.90,118.94 L250.15,118.94 L250.40,118.95 L250.65,118.95 L250.90,118.95 L251.15,118.96 L251.40,118.96 L251.65,118.97 L251.90,118.98 L252.15,118.99 L252.40,119.00 L252.65,119.01 L252.90,119.02 L253.15,119.03 L253.90,119.07 L254.65,119.11 L255.40,119.16 L256.15,119.20 L256.90,119.24 L257.65,119.28 L258.40,119.31 L259.15,119.33 L259.90,119.35 L260.65,119.37 L261.40,119.38 L262.15,119.39 L262.90,119.39 L263.65,119.39 L264.40,119.40 L265.15,119.40 L265.90,119.40 L266.65,119.40 L267.40,119.40 L268.15,119.40 L268.90,119.40 L269.65,119.40 L270.40,119.40 L271.15,119.40 L271.90,119.40 L272.65,119.40 L273.40,119.40 L274.15,119.40 L274.90,119.40 L275.65,119.40" fill="none" stroke="#111" stroke-width="0.95" stroke-linejoin="round"/><path d="M228.80,109.50 H239.60 M228.80,108.40 V110.60 M239.60,108.40 V110.60" stroke="#222" stroke-width="1.1" fill="none"/><path d="M243.00,106.40 H265.50 M243.00,105.30 V107.50 M265.50,105.30 V107.50" stroke="#222" stroke-width="1.1" fill="none"/><text x="233.35" y="103.40" font-size="9.8" font-weight="normal" text-anchor="middle" fill="#000" stroke="#000" stroke-width="0.25">34</text><text x="257.45" y="100.10" font-size="15.6" font-weight="normal" text-anchor="middle" fill="#000" stroke="#000" stroke-width="0.1">4.5</text><rect x="284.50" y="71.00" width="50.80" height="50.60" fill="none" stroke="#222" stroke-width="1"/><line x1="283.60" y1="73.00" x2="283.60" y2="121.60" stroke="#444" stroke-width="0.8" stroke-dasharray="0.5 1.3"/><line x1="284.50" y1="122.50" x2="335.30" y2="122.50" stroke="#444" stroke-width="0.8" stroke-dasharray="0.5 1.3"/><line x1="282.70" y1="74.75" x2="284.50" y2="74.75" stroke="#222" stroke-width="0.9"/><text x="283.70" y="75.85" font-size="3.2" font-weight="bold" text-anchor="end" fill="#111" >250</text><line x1="282.70" y1="84.12" x2="284.50" y2="84.12" stroke="#222" stroke-width="0.9"/><text x="283.70" y="85.22" font-size="3.2" font-weight="bold" text-anchor="end" fill="#111" >200</text><line x1="282.70" y1="93.49" x2="284.50" y2="93.49" stroke="#222" stroke-width="0.9"/><text x="283.70" y="94.59" font-size="3.2" font-weight="bold" text-anchor="end" fill="#111" >150</text><line x1="282.70" y1="102.86" x2="284.50" y2="102.86" stroke="#222" stroke-width="0.9"/><text x="283.70" y="103.96" font-size="3.2" font-weight="bold" text-anchor="end" fill="#111" >100</text><line x1="282.70" y1="112.23" x2="284.50" y2="112.23" stroke="#222" stroke-width="0.9"/><text x="283.70" y="113.33" font-size="3.2" font-weight="bold" text-anchor="end" fill="#111" >50</text><text x="283.70" y="122.70" font-size="3.1" font-weight="bold" text-anchor="end" fill="#333" >0</text><line x1="284.50" y1="121.60" x2="284.50" y2="123.40" stroke="#222" stroke-width="0.9"/><text x="284.50" y="126.60" font-size="3.4" font-weight="bold" text-anchor="middle" fill="#111" >0</text><line x1="294.66" y1="121.60" x2="294.66" y2="123.40" stroke="#222" stroke-width="0.9"/><text x="294.66" y="126.60" font-size="3.4" font-weight="bold" text-anchor="middle" fill="#111" >200</text><line x1="304.82" y1="121.60" x2="304.82" y2="123.40" stroke="#222" stroke-width="0.9"/><text x="304.82" y="126.60" font-size="3.4" font-weight="bold" text-anchor="middle" fill="#111" >400</text><line x1="314.98" y1="121.60" x2="314.98" y2="123.40" stroke="#222" stroke-width="0.9"/><text x="314.98" y="126.60" font-size="3.4" font-weight="bold" text-anchor="middle" fill="#111" >600</text><line x1="325.14" y1="121.60" x2="325.14" y2="123.40" stroke="#222" stroke-width="0.9"/><text x="325.14" y="126.60" font-size="3.4" font-weight="bold" text-anchor="middle" fill="#111" >800</text><line x1="335.30" y1="121.60" x2="335.30" y2="123.40" stroke="#222" stroke-width="0.9"/><text x="335.30" y="126.60" font-size="3.4" font-weight="bold" text-anchor="middle" fill="#111" >1000</text><text x="309.90" y="130.00" font-size="3.3" font-weight="bold" text-anchor="middle" fill="#222" >FL2-A</text><path d="M296.80,119.73 L297.10,118.63 L297.34,114.87 L297.56,111.11 L297.76,107.35 L297.93,103.58 L298.09,99.82 L298.22,96.06 L298.34,92.30 L298.43,88.54 L298.51,84.78 L298.56,81.02 L298.59,77.26 L298.60,73.50 L299.20,73.50 L299.21,76.95 L299.24,80.40 L299.29,83.85 L299.37,87.29 L299.46,90.74 L299.57,94.19 L299.71,97.64 L299.87,101.09 L300.04,104.54 L300.24,107.98 L300.46,111.43 L300.70,114.88 L301.05,115.98 L301.05,120.40 L296.80,120.40 Z" fill="#9a9a9a" stroke="none"/><path d="M285.30,120.30 L285.55,120.30 L285.80,120.30 L286.05,120.30 L286.30,120.30 L286.55,120.30 L286.80,120.29 L287.05,120.23 L287.30,120.01 L287.55,119.44 L287.80,118.31 L288.05,116.73 L288.30,115.32 L288.55,115.01 L288.80,115.51 L289.05,115.97 L289.30,116.38 L289.55,116.75 L289.80,117.09 L290.05,117.40 L290.30,117.67 L290.55,117.92 L290.80,118.15 L291.05,118.35 L291.30,118.54 L291.55,118.71 L291.80,118.86 L292.05,118.99 L292.30,119.12 L292.55,119.23 L292.80,119.33 L293.05,119.43 L293.30,119.51 L293.55,119.58 L293.80,119.65 L294.05,119.71 L294.30,119.77 L294.55,119.82 L294.80,119.87 L295.05,119.91 L295.30,119.94 L295.55,119.98 L295.80,120.01 L296.05,120.04 L296.30,120.06 L296.55,120.08 L296.80,119.73 L297.10,118.63 L297.34,114.87 L297.56,111.11 L297.76,107.35 L297.93,103.58 L298.09,99.82 L298.22,96.06 L298.34,92.30 L298.43,88.54 L298.51,84.78 L298.56,81.02 L298.59,77.26 L298.60,73.50 L299.20,73.50 L299.21,76.95 L299.24,80.40 L299.29,83.85 L299.37,87.29 L299.46,90.74 L299.57,94.19 L299.71,97.64 L299.87,101.09 L300.04,104.54 L300.24,107.98 L300.46,111.43 L300.70,114.88 L301.05,115.98 L301.30,117.66 L301.55,118.06 L301.80,118.39 L302.05,118.67 L302.30,118.91 L302.55,119.11 L302.80,119.27 L303.05,119.41 L303.30,119.53 L303.55,119.62 L303.80,119.70 L304.05,119.76 L304.30,119.81 L304.55,119.85 L304.80,119.89 L305.05,119.91 L305.30,119.93 L305.55,119.95 L305.80,119.96 L306.05,119.97 L306.30,119.97 L306.55,119.97 L306.80,119.98 L307.05,119.98 L307.30,119.98 L307.55,119.98 L307.80,119.98 L308.05,119.98 L308.30,119.98 L308.55,119.98 L308.80,119.98 L309.05,119.98 L309.30,119.99 L309.55,119.99 L309.80,120.00 L310.05,120.01 L310.30,120.01 L310.55,120.02 L310.80,120.03 L311.05,120.04 L311.80,120.08 L312.55,120.12 L313.30,120.17 L314.05,120.21 L314.80,120.25 L315.55,120.28 L316.30,120.31 L317.05,120.34 L317.80,120.36 L318.55,120.37 L319.30,120.38 L320.05,120.39 L320.80,120.39 L321.55,120.40 L322.30,120.40 L323.05,120.40 L323.80,120.40 L324.55,120.40 L325.30,120.40 L326.05,120.40 L326.80,120.40 L327.55,120.40 L328.30,120.40 L329.05,120.40 L329.80,120.40 L330.55,120.40 L331.30,120.40 L332.05,120.40 L332.80,120.40 L333.55,120.40 L334.30,120.40" fill="none" stroke="#111" stroke-width="0.95" stroke-linejoin="round"/><path d="M286.40,110.50 H296.90 M286.40,109.40 V111.60 M296.90,109.40 V111.60" stroke="#222" stroke-width="1.1" fill="none"/><path d="M301.60,107.10 H323.80 M301.60,106.00 V108.20 M323.80,106.00 V108.20" stroke="#222" stroke-width="1.1" fill="none"/><text x="292.05" y="101.20" font-size="9.8" font-weight="normal" text-anchor="middle" fill="#000" stroke="#000" stroke-width="0.25">14</text><text x="316.30" y="100.70" font-size="15.6" font-weight="normal" text-anchor="middle" fill="#000" stroke="#000" stroke-width="0.1">2.5</text><rect x="344.80" y="70.80" width="50.90" height="50.40" fill="none" stroke="#222" stroke-width="1"/><line x1="343.90" y1="72.80" x2="343.90" y2="121.20" stroke="#444" stroke-width="0.8" stroke-dasharray="0.5 1.3"/><line x1="344.80" y1="122.10" x2="395.70" y2="122.10" stroke="#444" stroke-width="0.8" stroke-dasharray="0.5 1.3"/><line x1="343.00" y1="74.53" x2="344.80" y2="74.53" stroke="#222" stroke-width="0.9"/><text x="344.00" y="75.63" font-size="3.2" font-weight="bold" text-anchor="end" fill="#111" >125</text><line x1="343.00" y1="83.87" x2="344.80" y2="83.87" stroke="#222" stroke-width="0.9"/><text x="344.00" y="84.97" font-size="3.2" font-weight="bold" text-anchor="end" fill="#111" >100</text><line x1="343.00" y1="93.20" x2="344.80" y2="93.20" stroke="#222" stroke-width="0.9"/><text x="344.00" y="94.30" font-size="3.2" font-weight="bold" text-anchor="end" fill="#111" >75</text><line x1="343.00" y1="102.53" x2="344.80" y2="102.53" stroke="#222" stroke-width="0.9"/><text x="344.00" y="103.63" font-size="3.2" font-weight="bold" text-anchor="end" fill="#111" >50</text><line x1="343.00" y1="111.87" x2="344.80" y2="111.87" stroke="#222" stroke-width="0.9"/><text x="344.00" y="112.97" font-size="3.2" font-weight="bold" text-anchor="end" fill="#111" >25</text><text x="344.00" y="122.30" font-size="3.1" font-weight="bold" text-anchor="end" fill="#333" >0</text><line x1="344.80" y1="121.20" x2="344.80" y2="123.00" stroke="#222" stroke-width="0.9"/><text x="344.80" y="126.20" font-size="3.4" font-weight="bold" text-anchor="middle" fill="#111" >0</text><line x1="354.98" y1="121.20" x2="354.98" y2="123.00" stroke="#222" stroke-width="0.9"/><text x="354.98" y="126.20" font-size="3.4" font-weight="bold" text-anchor="middle" fill="#111" >200</text><line x1="365.16" y1="121.20" x2="365.16" y2="123.00" stroke="#222" stroke-width="0.9"/><text x="365.16" y="126.20" font-size="3.4" font-weight="bold" text-anchor="middle" fill="#111" >400</text><line x1="375.34" y1="121.20" x2="375.34" y2="123.00" stroke="#222" stroke-width="0.9"/><text x="375.34" y="126.20" font-size="3.4" font-weight="bold" text-anchor="middle" fill="#111" >600</text><line x1="385.52" y1="121.20" x2="385.52" y2="123.00" stroke="#222" stroke-width="0.9"/><text x="385.52" y="126.20" font-size="3.4" font-weight="bold" text-anchor="middle" fill="#111" >800</text><line x1="395.70" y1="121.20" x2="395.70" y2="123.00" stroke="#222" stroke-width="0.9"/><text x="395.70" y="126.20" font-size="3.4" font-weight="bold" text-anchor="middle" fill="#111" >1000</text><text x="370.25" y="129.60" font-size="3.3" font-weight="bold" text-anchor="middle" fill="#222" >FL2-A</text><path d="M357.20,117.11 L357.50,116.01 L357.74,113.02 L357.96,110.04 L358.16,107.05 L358.33,104.07 L358.49,101.09 L358.62,98.10 L358.74,95.12 L358.83,92.14 L358.91,89.15 L358.96,86.17 L358.99,83.18 L359.00,80.20 L359.60,80.20 L359.61,82.78 L359.64,85.36 L359.69,87.94 L359.77,90.52 L359.86,93.10 L359.98,95.68 L360.11,98.26 L360.27,100.84 L360.44,103.42 L360.64,106.00 L360.86,108.58 L361.10,111.16 L361.45,112.26 L361.45,120.00 L357.20,120.00 Z" fill="#9a9a9a" stroke="none"/><path d="M345.60,119.90 L345.85,119.90 L346.10,119.90 L346.35,119.90 L346.60,119.89 L346.85,119.81 L347.10,119.43 L347.35,117.98 L347.60,113.86 L347.85,105.15 L348.10,91.98 L348.35,78.97 L348.60,73.40 L348.85,77.12 L349.10,80.54 L349.35,83.69 L349.60,86.58 L349.85,89.25 L350.10,91.70 L350.35,93.95 L350.60,96.03 L350.85,97.93 L351.10,99.69 L351.35,101.31 L351.60,102.79 L351.85,104.16 L352.10,105.42 L352.35,106.58 L352.60,107.64 L352.85,108.62 L353.10,109.52 L353.35,110.35 L353.60,111.12 L353.85,111.82 L354.10,112.47 L354.35,113.06 L354.60,113.61 L354.85,114.11 L355.10,114.57 L355.35,115.00 L355.60,115.39 L355.85,115.75 L356.10,116.08 L356.35,116.39 L356.60,116.67 L356.85,116.93 L357.10,117.17 L357.20,117.11 L357.50,116.01 L357.74,113.02 L357.96,110.04 L358.16,107.05 L358.33,104.07 L358.49,101.09 L358.62,98.10 L358.74,95.12 L358.83,92.14 L358.91,89.15 L358.96,86.17 L358.99,83.18 L359.00,80.20 L359.60,80.20 L359.61,82.78 L359.64,85.36 L359.69,87.94 L359.77,90.52 L359.86,93.10 L359.98,95.68 L360.11,98.26 L360.27,100.84 L360.44,103.42 L360.64,106.00 L360.86,108.58 L361.10,111.16 L361.45,112.26 L361.70,113.59 L361.95,113.94 L362.20,114.27 L362.45,114.57 L362.70,114.86 L362.95,115.13 L363.20,115.39 L363.45,115.63 L363.70,115.85 L363.95,116.06 L364.20,116.26 L364.45,116.44 L364.70,116.61 L364.95,116.78 L365.20,116.93 L365.45,117.07 L365.70,117.21 L365.95,117.33 L366.20,117.45 L366.45,117.56 L366.70,117.67 L366.95,117.77 L367.20,117.86 L367.45,117.95 L367.70,118.03 L367.95,118.12 L368.20,118.19 L368.45,118.27 L368.70,118.34 L368.95,118.40 L369.20,118.47 L369.45,118.53 L369.70,118.59 L369.95,118.65 L370.20,118.71 L370.45,118.76 L370.70,118.82 L370.95,118.87 L371.20,118.92 L371.45,118.97 L372.20,119.11 L372.95,119.24 L373.70,119.36 L374.45,119.46 L375.20,119.56 L375.95,119.64 L376.70,119.70 L377.45,119.76 L378.20,119.81 L378.95,119.84 L379.70,119.87 L380.45,119.90 L381.20,119.92 L381.95,119.93 L382.70,119.94 L383.45,119.95 L384.20,119.96 L384.95,119.97 L385.70,119.97 L386.45,119.98 L387.20,119.98 L387.95,119.98 L388.70,119.99 L389.45,119.99 L390.20,119.99 L390.95,119.99 L391.70,119.99 L392.45,119.99 L393.20,119.99 L393.95,120.00 L394.70,120.00" fill="none" stroke="#111" stroke-width="0.95" stroke-linejoin="round"/><path d="M346.80,110.50 H357.60 M346.80,109.40 V111.60 M357.60,109.40 V111.60" stroke="#222" stroke-width="1.1" fill="none"/><path d="M361.60,107.10 H383.80 M361.60,106.00 V108.20 M383.80,106.00 V108.20" stroke="#222" stroke-width="1.1" fill="none"/><text x="352.90" y="101.20" font-size="9.8" font-weight="normal" text-anchor="middle" fill="#000" stroke="#000" stroke-width="0.25">51</text><text x="375.30" y="100.70" font-size="15.6" font-weight="normal" text-anchor="middle" fill="#000" stroke="#000" stroke-width="0.1">13</text><rect x="404.10" y="70.50" width="50.50" height="50.30" fill="none" stroke="#222" stroke-width="1"/><line x1="403.20" y1="72.50" x2="403.20" y2="120.80" stroke="#444" stroke-width="0.8" stroke-dasharray="0.5 1.3"/><line x1="404.10" y1="121.70" x2="454.60" y2="121.70" stroke="#444" stroke-width="0.8" stroke-dasharray="0.5 1.3"/><line x1="402.30" y1="74.23" x2="404.10" y2="74.23" stroke="#222" stroke-width="0.9"/><text x="403.30" y="75.33" font-size="3.2" font-weight="bold" text-anchor="end" fill="#111" >250</text><line x1="402.30" y1="83.54" x2="404.10" y2="83.54" stroke="#222" stroke-width="0.9"/><text x="403.30" y="84.64" font-size="3.2" font-weight="bold" text-anchor="end" fill="#111" >200</text><line x1="402.30" y1="92.86" x2="404.10" y2="92.86" stroke="#222" stroke-width="0.9"/><text x="403.30" y="93.96" font-size="3.2" font-weight="bold" text-anchor="end" fill="#111" >150</text><line x1="402.30" y1="102.17" x2="404.10" y2="102.17" stroke="#222" stroke-width="0.9"/><text x="403.30" y="103.27" font-size="3.2" font-weight="bold" text-anchor="end" fill="#111" >100</text><line x1="402.30" y1="111.49" x2="404.10" y2="111.49" stroke="#222" stroke-width="0.9"/><text x="403.30" y="112.59" font-size="3.2" font-weight="bold" text-anchor="end" fill="#111" >50</text><text x="403.30" y="121.90" font-size="3.1" font-weight="bold" text-anchor="end" fill="#333" >0</text><line x1="404.10" y1="120.80" x2="404.10" y2="122.60" stroke="#222" stroke-width="0.9"/><text x="404.10" y="125.80" font-size="3.4" font-weight="bold" text-anchor="middle" fill="#111" >0</text><line x1="414.20" y1="120.80" x2="414.20" y2="122.60" stroke="#222" stroke-width="0.9"/><text x="414.20" y="125.80" font-size="3.4" font-weight="bold" text-anchor="middle" fill="#111" >200</text><line x1="424.30" y1="120.80" x2="424.30" y2="122.60" stroke="#222" stroke-width="0.9"/><text x="424.30" y="125.80" font-size="3.4" font-weight="bold" text-anchor="middle" fill="#111" >400</text><line x1="434.40" y1="120.80" x2="434.40" y2="122.60" stroke="#222" stroke-width="0.9"/><text x="434.40" y="125.80" font-size="3.4" font-weight="bold" text-anchor="middle" fill="#111" >600</text><line x1="444.50" y1="120.80" x2="444.50" y2="122.60" stroke="#222" stroke-width="0.9"/><text x="444.50" y="125.80" font-size="3.4" font-weight="bold" text-anchor="middle" fill="#111" >800</text><line x1="454.60" y1="120.80" x2="454.60" y2="122.60" stroke="#222" stroke-width="0.9"/><text x="454.60" y="125.80" font-size="3.4" font-weight="bold" text-anchor="middle" fill="#111" >1000</text><text x="429.35" y="129.20" font-size="3.3" font-weight="bold" text-anchor="middle" fill="#222" >FL2-A</text><path d="M416.20,118.43 L416.50,117.33 L416.74,113.65 L416.96,109.97 L417.16,106.29 L417.33,102.62 L417.49,98.94 L417.62,95.26 L417.74,91.59 L417.83,87.91 L417.91,84.23 L417.96,80.55 L417.99,76.88 L418.00,73.20 L418.60,73.20 L418.61,76.59 L418.64,79.98 L418.69,83.37 L418.77,86.76 L418.86,90.15 L418.98,93.54 L419.11,96.93 L419.27,100.32 L419.44,103.71 L419.64,107.10 L419.86,110.49 L420.10,113.88 L420.45,114.98 L420.45,119.60 L416.20,119.60 Z" fill="#9a9a9a" stroke="none"/><path d="M404.90,119.50 L405.15,119.50 L405.40,119.49 L405.65,119.43 L405.90,119.19 L406.15,118.49 L406.40,116.90 L406.65,114.32 L406.90,111.51 L407.15,109.95 L407.40,110.43 L407.65,111.06 L407.90,111.64 L408.15,112.18 L408.40,112.69 L408.65,113.16 L408.90,113.59 L409.15,114.00 L409.40,114.38 L409.65,114.73 L409.90,115.06 L410.15,115.37 L410.40,115.65 L410.65,115.92 L410.90,116.16 L411.15,116.39 L411.40,116.61 L411.65,116.81 L411.90,116.99 L412.15,117.17 L412.40,117.33 L412.65,117.48 L412.90,117.62 L413.15,117.75 L413.40,117.87 L413.65,117.98 L413.90,118.08 L414.15,118.18 L414.40,118.27 L414.65,118.36 L414.90,118.44 L415.15,118.51 L415.40,118.58 L415.65,118.64 L415.90,118.70 L416.15,118.76 L416.20,118.43 L416.50,117.33 L416.74,113.65 L416.96,109.97 L417.16,106.29 L417.33,102.62 L417.49,98.94 L417.62,95.26 L417.74,91.59 L417.83,87.91 L417.91,84.23 L417.96,80.55 L417.99,76.88 L418.00,73.20 L418.60,73.20 L418.61,76.59 L418.64,79.98 L418.69,83.37 L418.77,86.76 L418.86,90.15 L418.98,93.54 L419.11,96.93 L419.27,100.32 L419.44,103.71 L419.64,107.10 L419.86,110.49 L420.10,113.88 L420.45,114.98 L420.70,116.69 L420.95,117.10 L421.20,117.44 L421.45,117.74 L421.70,117.98 L421.95,118.19 L422.20,118.36 L422.45,118.50 L422.70,118.63 L422.95,118.73 L423.20,118.81 L423.45,118.88 L423.70,118.94 L423.95,118.98 L424.20,119.02 L424.45,119.05 L424.70,119.07 L424.95,119.09 L425.20,119.11 L425.45,119.12 L425.70,119.13 L425.95,119.13 L426.20,119.14 L426.45,119.14 L426.70,119.14 L426.95,119.15 L427.20,119.15 L427.45,119.15 L427.70,119.15 L427.95,119.15 L428.20,119.16 L428.45,119.16 L428.70,119.17 L428.95,119.17 L429.20,119.18 L429.45,119.19 L429.70,119.20 L429.95,119.21 L430.20,119.22 L430.45,119.23 L431.20,119.27 L431.95,119.31 L432.70,119.36 L433.45,119.40 L434.20,119.44 L434.95,119.48 L435.70,119.51 L436.45,119.53 L437.20,119.55 L437.95,119.57 L438.70,119.58 L439.45,119.59 L440.20,119.59 L440.95,119.59 L441.70,119.60 L442.45,119.60 L443.20,119.60 L443.95,119.60 L444.70,119.60 L445.45,119.60 L446.20,119.60 L446.95,119.60 L447.70,119.60 L448.45,119.60 L449.20,119.60 L449.95,119.60 L450.70,119.60 L451.45,119.60 L452.20,119.60 L452.95,119.60 L453.70,119.60" fill="none" stroke="#111" stroke-width="0.95" stroke-linejoin="round"/><path d="M406.20,109.80 H416.90 M406.20,108.70 V110.90 M416.90,108.70 V110.90" stroke="#222" stroke-width="1.1" fill="none"/><path d="M421.60,106.70 H443.80 M421.60,105.60 V107.80 M443.80,105.60 V107.80" stroke="#222" stroke-width="1.1" fill="none"/><text x="410.75" y="105.50" font-size="9.8" font-weight="normal" text-anchor="middle" fill="#000" stroke="#000" stroke-width="0.25">27</text><text x="436.75" y="103.40" font-size="15.6" font-weight="normal" text-anchor="middle" fill="#000" stroke="#000" stroke-width="0.1">2.9</text><rect x="464.80" y="72.40" width="50.90" height="50.20" fill="none" stroke="#222" stroke-width="1"/><line x1="463.90" y1="74.40" x2="463.90" y2="122.60" stroke="#444" stroke-width="0.8" stroke-dasharray="0.5 1.3"/><line x1="464.80" y1="123.50" x2="515.70" y2="123.50" stroke="#444" stroke-width="0.8" stroke-dasharray="0.5 1.3"/><line x1="463.00" y1="76.96" x2="464.80" y2="76.96" stroke="#222" stroke-width="0.9"/><text x="464.00" y="78.06" font-size="3.2" font-weight="bold" text-anchor="end" fill="#111" >200</text><line x1="463.00" y1="88.37" x2="464.80" y2="88.37" stroke="#222" stroke-width="0.9"/><text x="464.00" y="89.47" font-size="3.2" font-weight="bold" text-anchor="end" fill="#111" >150</text><line x1="463.00" y1="99.78" x2="464.80" y2="99.78" stroke="#222" stroke-width="0.9"/><text x="464.00" y="100.88" font-size="3.2" font-weight="bold" text-anchor="end" fill="#111" >100</text><line x1="463.00" y1="111.19" x2="464.80" y2="111.19" stroke="#222" stroke-width="0.9"/><text x="464.00" y="112.29" font-size="3.2" font-weight="bold" text-anchor="end" fill="#111" >50</text><text x="464.00" y="123.70" font-size="3.1" font-weight="bold" text-anchor="end" fill="#333" >0</text><line x1="464.80" y1="122.60" x2="464.80" y2="124.40" stroke="#222" stroke-width="0.9"/><text x="464.80" y="127.60" font-size="3.4" font-weight="bold" text-anchor="middle" fill="#111" >0</text><line x1="474.98" y1="122.60" x2="474.98" y2="124.40" stroke="#222" stroke-width="0.9"/><text x="474.98" y="127.60" font-size="3.4" font-weight="bold" text-anchor="middle" fill="#111" >200</text><line x1="485.16" y1="122.60" x2="485.16" y2="124.40" stroke="#222" stroke-width="0.9"/><text x="485.16" y="127.60" font-size="3.4" font-weight="bold" text-anchor="middle" fill="#111" >400</text><line x1="495.34" y1="122.60" x2="495.34" y2="124.40" stroke="#222" stroke-width="0.9"/><text x="495.34" y="127.60" font-size="3.4" font-weight="bold" text-anchor="middle" fill="#111" >600</text><line x1="505.52" y1="122.60" x2="505.52" y2="124.40" stroke="#222" stroke-width="0.9"/><text x="505.52" y="127.60" font-size="3.4" font-weight="bold" text-anchor="middle" fill="#111" >800</text><line x1="515.70" y1="122.60" x2="515.70" y2="124.40" stroke="#222" stroke-width="0.9"/><text x="515.70" y="127.60" font-size="3.4" font-weight="bold" text-anchor="middle" fill="#111" >1000</text><text x="490.25" y="131.00" font-size="3.3" font-weight="bold" text-anchor="middle" fill="#222" >FL2-A</text><path d="M477.20,120.90 L477.50,119.80 L477.74,116.05 L477.96,112.30 L478.16,108.55 L478.33,104.80 L478.49,101.05 L478.62,97.30 L478.74,93.55 L478.83,89.80 L478.91,86.05 L478.96,82.30 L478.99,78.55 L479.00,74.80 L479.60,74.80 L479.61,78.23 L479.64,81.65 L479.69,85.08 L479.77,88.51 L479.86,91.93 L479.98,95.36 L480.11,98.79 L480.27,102.21 L480.44,105.64 L480.64,109.07 L480.86,112.49 L481.10,115.92 L481.45,117.02 L481.45,121.40 L477.20,121.40 Z" fill="#9a9a9a" stroke="none"/><path d="M465.60,121.30 L465.85,121.30 L466.10,121.30 L466.35,121.30 L466.60,121.30 L466.85,121.30 L467.10,121.30 L467.35,121.30 L467.60,121.30 L467.85,121.30 L468.10,121.30 L468.35,121.30 L468.60,121.30 L468.85,121.30 L469.10,121.30 L469.35,121.30 L469.60,121.30 L469.85,121.30 L470.10,121.30 L470.35,121.30 L470.60,121.30 L470.85,121.30 L471.10,121.30 L471.35,121.30 L471.60,121.30 L471.85,121.30 L472.10,121.30 L472.35,121.30 L472.60,121.30 L472.85,121.30 L473.10,121.30 L473.35,121.30 L473.60,121.30 L473.85,121.30 L474.10,121.30 L474.35,121.30 L474.60,121.30 L474.85,121.30 L475.10,121.30 L475.35,121.30 L475.60,121.30 L475.85,121.30 L476.10,121.30 L476.35,121.30 L476.60,121.30 L476.85,121.30 L477.10,121.30 L477.20,120.90 L477.50,119.80 L477.74,116.05 L477.96,112.30 L478.16,108.55 L478.33,104.80 L478.49,101.05 L478.62,97.30 L478.74,93.55 L478.83,89.80 L478.91,86.05 L478.96,82.30 L478.99,78.55 L479.00,74.80 L479.60,74.80 L479.61,78.23 L479.64,81.65 L479.69,85.08 L479.77,88.51 L479.86,91.93 L479.98,95.36 L480.11,98.79 L480.27,102.21 L480.44,105.64 L480.64,109.07 L480.86,112.49 L481.10,115.92 L481.45,117.02 L481.70,118.69 L481.95,119.09 L482.20,119.42 L482.45,119.70 L482.70,119.93 L482.95,120.13 L483.20,120.29 L483.45,120.43 L483.70,120.54 L483.95,120.63 L484.20,120.71 L484.45,120.77 L484.70,120.82 L484.95,120.86 L485.20,120.89 L485.45,120.92 L485.70,120.94 L485.95,120.95 L486.20,120.96 L486.45,120.97 L486.70,120.97 L486.95,120.98 L487.20,120.98 L487.45,120.98 L487.70,120.98 L487.95,120.98 L488.20,120.98 L488.45,120.98 L488.70,120.98 L488.95,120.98 L489.20,120.98 L489.45,120.99 L489.70,120.99 L489.95,120.99 L490.20,121.00 L490.45,121.01 L490.70,121.01 L490.95,121.02 L491.20,121.03 L491.45,121.04 L492.20,121.08 L492.95,121.12 L493.70,121.17 L494.45,121.21 L495.20,121.25 L495.95,121.28 L496.70,121.31 L497.45,121.34 L498.20,121.36 L498.95,121.37 L499.70,121.38 L500.45,121.39 L501.20,121.39 L501.95,121.40 L502.70,121.40 L503.45,121.40 L504.20,121.40 L504.95,121.40 L505.70,121.40 L506.45,121.40 L507.20,121.40 L507.95,121.40 L508.70,121.40 L509.45,121.40 L510.20,121.40 L510.95,121.40 L511.70,121.40 L512.45,121.40 L513.20,121.40 L513.95,121.40 L514.70,121.40" fill="none" stroke="#111" stroke-width="0.95" stroke-linejoin="round"/><path d="M466.80,111.80 H477.60 M466.80,110.70 V112.90 M477.60,110.70 V112.90" stroke="#222" stroke-width="1.1" fill="none"/><path d="M482.30,108.20 H504.50 M482.30,107.10 V109.30 M504.50,107.10 V109.30" stroke="#222" stroke-width="1.1" fill="none"/><text x="472.55" y="102.80" font-size="9.8" font-weight="normal" text-anchor="middle" fill="#000" stroke="#000" stroke-width="0.25">7.8</text><text x="497.80" y="104.10" font-size="15.6" font-weight="normal" text-anchor="middle" fill="#000" stroke="#000" stroke-width="0.1">1.9</text><rect x="41.70" y="135.10" width="49.20" height="50.20" fill="none" stroke="#222" stroke-width="1"/><line x1="40.80" y1="137.10" x2="40.80" y2="185.30" stroke="#444" stroke-width="0.8" stroke-dasharray="0.5 1.3"/><line x1="41.70" y1="186.20" x2="90.90" y2="186.20" stroke="#444" stroke-width="0.8" stroke-dasharray="0.5 1.3"/><line x1="39.90" y1="139.66" x2="41.70" y2="139.66" stroke="#222" stroke-width="0.9"/><text x="40.90" y="140.76" font-size="3.2" font-weight="bold" text-anchor="end" fill="#111" >400</text><line x1="39.90" y1="151.07" x2="41.70" y2="151.07" stroke="#222" stroke-width="0.9"/><text x="40.90" y="152.17" font-size="3.2" font-weight="bold" text-anchor="end" fill="#111" >300</text><line x1="39.90" y1="162.48" x2="41.70" y2="162.48" stroke="#222" stroke-width="0.9"/><text x="40.90" y="163.58" font-size="3.2" font-weight="bold" text-anchor="end" fill="#111" >200</text><line x1="39.90" y1="173.89" x2="41.70" y2="173.89" stroke="#222" stroke-width="0.9"/><text x="40.90" y="174.99" font-size="3.2" font-weight="bold" text-anchor="end" fill="#111" >100</text><text x="40.90" y="186.40" font-size="3.1" font-weight="bold" text-anchor="end" fill="#333" >0</text><line x1="41.70" y1="185.30" x2="41.70" y2="187.10" stroke="#222" stroke-width="0.9"/><text x="41.70" y="190.30" font-size="3.4" font-weight="bold" text-anchor="middle" fill="#111" >0</text><line x1="51.54" y1="185.30" x2="51.54" y2="187.10" stroke="#222" stroke-width="0.9"/><text x="51.54" y="190.30" font-size="3.4" font-weight="bold" text-anchor="middle" fill="#111" >200</text><line x1="61.38" y1="185.30" x2="61.38" y2="187.10" stroke="#222" stroke-width="0.9"/><text x="61.38" y="190.30" font-size="3.4" font-weight="bold" text-anchor="middle" fill="#111" >400</text><line x1="71.22" y1="185.30" x2="71.22" y2="187.10" stroke="#222" stroke-width="0.9"/><text x="71.22" y="190.30" font-size="3.4" font-weight="bold" text-anchor="middle" fill="#111" >600</text><line x1="81.06" y1="185.30" x2="81.06" y2="187.10" stroke="#222" stroke-width="0.9"/><text x="81.06" y="190.30" font-size="3.4" font-weight="bold" text-anchor="middle" fill="#111" >800</text><line x1="90.90" y1="185.30" x2="90.90" y2="187.10" stroke="#222" stroke-width="0.9"/><text x="90.90" y="190.30" font-size="3.4" font-weight="bold" text-anchor="middle" fill="#111" >1000</text><text x="66.30" y="193.70" font-size="3.3" font-weight="bold" text-anchor="middle" fill="#222" >FL2-A</text><path d="M53.40,183.60 L53.70,182.50 L53.94,178.78 L54.16,175.05 L54.36,171.33 L54.53,167.60 L54.69,163.88 L54.83,160.15 L54.94,156.43 L55.03,152.70 L55.11,148.98 L55.16,145.25 L55.19,141.53 L55.20,137.80 L55.80,137.80 L55.81,141.20 L55.84,144.60 L55.89,148.01 L55.97,151.41 L56.06,154.81 L56.17,158.21 L56.31,161.61 L56.47,165.01 L56.64,168.42 L56.84,171.82 L57.06,175.22 L57.30,178.62 L57.65,179.72 L57.65,184.10 L53.40,184.10 Z" fill="#9a9a9a" stroke="none"/><path d="M42.50,184.00 L42.75,184.00 L43.00,184.00 L43.25,184.00 L43.50,184.00 L43.75,184.00 L44.00,184.00 L44.25,184.00 L44.50,184.00 L44.75,184.00 L45.00,184.00 L45.25,184.00 L45.50,184.00 L45.75,184.00 L46.00,184.00 L46.25,184.00 L46.50,184.00 L46.75,184.00 L47.00,184.00 L47.25,184.00 L47.50,184.00 L47.75,184.00 L48.00,184.00 L48.25,184.00 L48.50,184.00 L48.75,184.00 L49.00,184.00 L49.25,184.00 L49.50,184.00 L49.75,184.00 L50.00,184.00 L50.25,184.00 L50.50,184.00 L50.75,184.00 L51.00,184.00 L51.25,184.00 L51.50,184.00 L51.75,184.00 L52.00,184.00 L52.25,184.00 L52.50,184.00 L52.75,184.00 L53.00,184.00 L53.25,184.00 L53.40,183.60 L53.70,182.50 L53.94,178.78 L54.16,175.05 L54.36,171.33 L54.53,167.60 L54.69,163.88 L54.83,160.15 L54.94,156.43 L55.03,152.70 L55.11,148.98 L55.16,145.25 L55.19,141.53 L55.20,137.80 L55.80,137.80 L55.81,141.20 L55.84,144.60 L55.89,148.01 L55.97,151.41 L56.06,154.81 L56.17,158.21 L56.31,161.61 L56.47,165.01 L56.64,168.42 L56.84,171.82 L57.06,175.22 L57.30,178.62 L57.65,179.72 L57.90,181.39 L58.15,181.79 L58.40,182.12 L58.65,182.40 L58.90,182.63 L59.15,182.83 L59.40,182.99 L59.65,183.13 L59.90,183.24 L60.15,183.33 L60.40,183.41 L60.65,183.47 L60.90,183.52 L61.15,183.56 L61.40,183.59 L61.65,183.62 L61.90,183.64 L62.15,183.65 L62.40,183.66 L62.65,183.67 L62.90,183.67 L63.15,183.68 L63.40,183.68 L63.65,183.68 L63.90,183.68 L64.15,183.68 L64.40,183.68 L64.65,183.68 L64.90,183.68 L65.15,183.68 L65.40,183.68 L65.65,183.69 L65.90,183.69 L66.15,183.69 L66.40,183.70 L66.65,183.71 L66.90,183.71 L67.15,183.72 L67.40,183.73 L67.65,183.74 L68.40,183.78 L69.15,183.82 L69.90,183.87 L70.65,183.91 L71.40,183.95 L72.15,183.98 L72.90,184.01 L73.65,184.04 L74.40,184.06 L75.15,184.07 L75.90,184.08 L76.65,184.09 L77.40,184.09 L78.15,184.10 L78.90,184.10 L79.65,184.10 L80.40,184.10 L81.15,184.10 L81.90,184.10 L82.65,184.10 L83.40,184.10 L84.15,184.10 L84.90,184.10 L85.65,184.10 L86.40,184.10 L87.15,184.10 L87.90,184.10 L88.65,184.10 L89.40,184.10" fill="none" stroke="#111" stroke-width="0.95" stroke-linejoin="round"/><path d="M43.10,174.80 H53.20 M43.10,173.70 V175.90 M53.20,173.70 V175.90" stroke="#222" stroke-width="1.1" fill="none"/><path d="M58.60,171.40 H80.80 M58.60,170.30 V172.50 M80.80,170.30 V172.50" stroke="#222" stroke-width="1.1" fill="none"/><text x="48.80" y="166.40" font-size="9.8" font-weight="normal" text-anchor="middle" fill="#000" stroke="#000" stroke-width="0.25">8.8</text><text x="73.80" y="169.10" font-size="15.6" font-weight="normal" text-anchor="middle" fill="#000" stroke="#000" stroke-width="0.1">0.8</text><rect x="101.40" y="137.80" width="50.20" height="50.50" fill="none" stroke="#222" stroke-width="1"/><line x1="100.50" y1="139.80" x2="100.50" y2="188.30" stroke="#444" stroke-width="0.8" stroke-dasharray="0.5 1.3"/><line x1="101.40" y1="189.20" x2="151.60" y2="189.20" stroke="#444" stroke-width="0.8" stroke-dasharray="0.5 1.3"/><line x1="99.60" y1="143.74" x2="101.40" y2="143.74" stroke="#222" stroke-width="0.9"/><text x="100.60" y="144.84" font-size="3.2" font-weight="bold" text-anchor="end" fill="#111" >300</text><line x1="99.60" y1="158.59" x2="101.40" y2="158.59" stroke="#222" stroke-width="0.9"/><text x="100.60" y="159.69" font-size="3.2" font-weight="bold" text-anchor="end" fill="#111" >200</text><line x1="99.60" y1="173.45" x2="101.40" y2="173.45" stroke="#222" stroke-width="0.9"/><text x="100.60" y="174.55" font-size="3.2" font-weight="bold" text-anchor="end" fill="#111" >100</text><text x="100.60" y="189.40" font-size="3.1" font-weight="bold" text-anchor="end" fill="#333" >0</text><line x1="101.40" y1="188.30" x2="101.40" y2="190.10" stroke="#222" stroke-width="0.9"/><text x="101.40" y="193.30" font-size="3.4" font-weight="bold" text-anchor="middle" fill="#111" >0</text><line x1="111.44" y1="188.30" x2="111.44" y2="190.10" stroke="#222" stroke-width="0.9"/><text x="111.44" y="193.30" font-size="3.4" font-weight="bold" text-anchor="middle" fill="#111" >200</text><line x1="121.48" y1="188.30" x2="121.48" y2="190.10" stroke="#222" stroke-width="0.9"/><text x="121.48" y="193.30" font-size="3.4" font-weight="bold" text-anchor="middle" fill="#111" >400</text><line x1="131.52" y1="188.30" x2="131.52" y2="190.10" stroke="#222" stroke-width="0.9"/><text x="131.52" y="193.30" font-size="3.4" font-weight="bold" text-anchor="middle" fill="#111" >600</text><line x1="141.56" y1="188.30" x2="141.56" y2="190.10" stroke="#222" stroke-width="0.9"/><text x="141.56" y="193.30" font-size="3.4" font-weight="bold" text-anchor="middle" fill="#111" >800</text><line x1="151.60" y1="188.30" x2="151.60" y2="190.10" stroke="#222" stroke-width="0.9"/><text x="151.60" y="193.30" font-size="3.4" font-weight="bold" text-anchor="middle" fill="#111" >1000</text><text x="126.50" y="196.70" font-size="3.3" font-weight="bold" text-anchor="middle" fill="#222" >FL2-A</text><path d="M113.50,185.10 L113.80,184.00 L114.04,180.41 L114.26,176.82 L114.46,173.23 L114.63,169.63 L114.79,166.04 L114.92,162.45 L115.04,158.86 L115.13,155.27 L115.21,151.68 L115.26,148.08 L115.29,144.49 L115.30,140.90 L115.90,140.90 L115.91,144.29 L115.94,147.69 L115.99,151.08 L116.07,154.47 L116.16,157.87 L116.27,161.26 L116.41,164.65 L116.57,168.05 L116.74,171.44 L116.94,174.83 L117.16,178.23 L117.40,181.62 L117.75,182.72 L117.75,187.10 L113.50,187.10 Z" fill="#9a9a9a" stroke="none"/><path d="M102.20,185.50 L102.45,185.50 L102.70,185.50 L102.95,185.50 L103.20,185.50 L103.45,185.50 L103.70,185.50 L103.95,185.50 L104.20,185.50 L104.45,185.50 L104.70,185.50 L104.95,185.50 L105.20,185.50 L105.45,185.50 L105.70,185.50 L105.95,185.50 L106.20,185.50 L106.45,185.50 L106.70,185.50 L106.95,185.50 L107.20,185.50 L107.45,185.50 L107.70,185.50 L107.95,185.50 L108.20,185.50 L108.45,185.50 L108.70,185.50 L108.95,185.50 L109.20,185.50 L109.45,185.50 L109.70,185.50 L109.95,185.50 L110.20,185.50 L110.45,185.50 L110.70,185.50 L110.95,185.50 L111.20,185.50 L111.45,185.50 L111.70,185.50 L111.95,185.50 L112.20,185.50 L112.45,185.50 L112.70,185.50 L112.95,185.50 L113.20,185.50 L113.45,185.50 L113.50,185.10 L113.80,184.00 L114.04,180.41 L114.26,176.82 L114.46,173.23 L114.63,169.63 L114.79,166.04 L114.92,162.45 L115.04,158.86 L115.13,155.27 L115.21,151.68 L115.26,148.08 L115.29,144.49 L115.30,140.90 L115.90,140.90 L115.91,144.29 L115.94,147.69 L115.99,151.08 L116.07,154.47 L116.16,157.87 L116.27,161.26 L116.41,164.65 L116.57,168.05 L116.74,171.44 L116.94,174.83 L117.16,178.23 L117.40,181.62 L117.75,182.72 L118.00,184.39 L118.25,184.79 L118.50,185.12 L118.75,185.40 L119.00,185.63 L119.25,185.83 L119.50,185.99 L119.75,186.13 L120.00,186.24 L120.25,186.33 L120.50,186.41 L120.75,186.47 L121.00,186.52 L121.25,186.56 L121.50,186.59 L121.75,186.62 L122.00,186.64 L122.25,186.65 L122.50,186.66 L122.75,186.67 L123.00,186.67 L123.25,186.68 L123.50,186.68 L123.75,186.68 L124.00,186.68 L124.25,186.68 L124.50,186.68 L124.75,186.68 L125.00,186.68 L125.25,186.68 L125.50,186.68 L125.75,186.69 L126.00,186.69 L126.25,186.69 L126.50,186.70 L126.75,186.71 L127.00,186.71 L127.25,186.72 L127.50,186.73 L127.75,186.74 L128.50,186.78 L129.25,186.82 L130.00,186.87 L130.75,186.91 L131.50,186.95 L132.25,186.98 L133.00,187.01 L133.75,187.04 L134.50,187.06 L135.25,187.07 L136.00,187.08 L136.75,187.09 L137.50,187.09 L138.25,187.10 L139.00,187.10 L139.75,187.10 L140.50,187.10 L141.25,187.10 L142.00,187.10 L142.75,187.10 L143.50,187.10 L144.25,187.10 L145.00,187.10 L145.75,187.10 L146.50,187.10 L147.25,187.10 L148.00,187.10 L148.75,187.10 L149.50,187.10 L150.25,187.10" fill="none" stroke="#111" stroke-width="0.95" stroke-linejoin="round"/><path d="M103.20,177.50 H113.60 M103.20,176.40 V178.60 M113.60,176.40 V178.60" stroke="#222" stroke-width="1.1" fill="none"/><path d="M118.50,174.10 H140.50 M118.50,173.00 V175.20 M140.50,173.00 V175.20" stroke="#222" stroke-width="1.1" fill="none"/><text x="108.55" y="173.80" font-size="9.8" font-weight="normal" text-anchor="middle" fill="#000" stroke="#000" stroke-width="0.25">17</text><text x="133.40" y="167.10" font-size="15.6" font-weight="normal" text-anchor="middle" fill="#000" stroke="#000" stroke-width="0.1">2.0</text><rect x="164.10" y="137.80" width="50.20" height="50.50" fill="none" stroke="#222" stroke-width="1"/><line x1="163.20" y1="139.80" x2="163.20" y2="188.30" stroke="#444" stroke-width="0.8" stroke-dasharray="0.5 1.3"/><line x1="164.10" y1="189.20" x2="214.30" y2="189.20" stroke="#444" stroke-width="0.8" stroke-dasharray="0.5 1.3"/><line x1="162.30" y1="143.74" x2="164.10" y2="143.74" stroke="#222" stroke-width="0.9"/><text x="163.30" y="144.84" font-size="3.2" font-weight="bold" text-anchor="end" fill="#111" >600</text><line x1="162.30" y1="158.59" x2="164.10" y2="158.59" stroke="#222" stroke-width="0.9"/><text x="163.30" y="159.69" font-size="3.2" font-weight="bold" text-anchor="end" fill="#111" >400</text><line x1="162.30" y1="173.45" x2="164.10" y2="173.45" stroke="#222" stroke-width="0.9"/><text x="163.30" y="174.55" font-size="3.2" font-weight="bold" text-anchor="end" fill="#111" >200</text><text x="163.30" y="189.40" font-size="3.1" font-weight="bold" text-anchor="end" fill="#333" >0</text><line x1="164.10" y1="188.30" x2="164.10" y2="190.10" stroke="#222" stroke-width="0.9"/><text x="164.10" y="193.30" font-size="3.4" font-weight="bold" text-anchor="middle" fill="#111" >0</text><line x1="174.14" y1="188.30" x2="174.14" y2="190.10" stroke="#222" stroke-width="0.9"/><text x="174.14" y="193.30" font-size="3.4" font-weight="bold" text-anchor="middle" fill="#111" >200</text><line x1="184.18" y1="188.30" x2="184.18" y2="190.10" stroke="#222" stroke-width="0.9"/><text x="184.18" y="193.30" font-size="3.4" font-weight="bold" text-anchor="middle" fill="#111" >400</text><line x1="194.22" y1="188.30" x2="194.22" y2="190.10" stroke="#222" stroke-width="0.9"/><text x="194.22" y="193.30" font-size="3.4" font-weight="bold" text-anchor="middle" fill="#111" >600</text><line x1="204.26" y1="188.30" x2="204.26" y2="190.10" stroke="#222" stroke-width="0.9"/><text x="204.26" y="193.30" font-size="3.4" font-weight="bold" text-anchor="middle" fill="#111" >800</text><line x1="214.30" y1="188.30" x2="214.30" y2="190.10" stroke="#222" stroke-width="0.9"/><text x="214.30" y="193.30" font-size="3.4" font-weight="bold" text-anchor="middle" fill="#111" >1000</text><text x="189.20" y="196.70" font-size="3.3" font-weight="bold" text-anchor="middle" fill="#222" >FL2-A</text><path d="M176.40,186.35 L176.70,185.25 L176.94,181.55 L177.16,177.86 L177.36,174.16 L177.53,170.46 L177.69,166.77 L177.82,163.07 L177.94,159.38 L178.03,155.68 L178.11,151.99 L178.16,148.29 L178.19,144.60 L178.20,140.90 L178.80,140.90 L178.81,144.22 L178.84,147.54 L178.89,150.87 L178.97,154.19 L179.06,157.51 L179.18,160.83 L179.31,164.16 L179.47,167.48 L179.64,170.80 L179.84,174.12 L180.06,177.45 L180.30,180.77 L180.65,181.87 L180.65,187.10 L176.40,187.10 Z" fill="#9a9a9a" stroke="none"/><path d="M164.90,187.00 L165.15,187.00 L165.40,187.00 L165.65,187.00 L165.90,187.00 L166.15,187.00 L166.40,186.98 L166.65,186.89 L166.90,186.61 L167.15,185.95 L167.40,184.79 L167.65,183.42 L167.90,182.49 L168.15,182.62 L168.40,182.97 L168.65,183.30 L168.90,183.59 L169.15,183.86 L169.40,184.12 L169.65,184.35 L169.90,184.56 L170.15,184.75 L170.40,184.93 L170.65,185.10 L170.90,185.25 L171.15,185.39 L171.40,185.52 L171.65,185.64 L171.90,185.75 L172.15,185.85 L172.40,185.94 L172.65,186.02 L172.90,186.10 L173.15,186.17 L173.40,186.24 L173.65,186.30 L173.90,186.36 L174.15,186.41 L174.40,186.46 L174.65,186.50 L174.90,186.54 L175.15,186.58 L175.40,186.61 L175.65,186.64 L175.90,186.67 L176.15,186.70 L176.40,186.35 L176.70,185.25 L176.94,181.55 L177.16,177.86 L177.36,174.16 L177.53,170.46 L177.69,166.77 L177.82,163.07 L177.94,159.38 L178.03,155.68 L178.11,151.99 L178.16,148.29 L178.19,144.60 L178.20,140.90 L178.80,140.90 L178.81,144.22 L178.84,147.54 L178.89,150.87 L178.97,154.19 L179.06,157.51 L179.18,160.83 L179.31,164.16 L179.47,167.48 L179.64,170.80 L179.84,174.12 L180.06,177.45 L180.30,180.77 L180.65,181.87 L180.90,183.26 L181.15,183.61 L181.40,183.93 L181.65,184.21 L181.90,184.46 L182.15,184.69 L182.40,184.89 L182.65,185.08 L182.90,185.24 L183.15,185.39 L183.40,185.52 L183.65,185.64 L183.90,185.74 L184.15,185.84 L184.40,185.92 L184.65,185.99 L184.90,186.06 L185.15,186.12 L185.40,186.17 L185.65,186.22 L185.90,186.26 L186.15,186.29 L186.40,186.33 L186.65,186.36 L186.90,186.38 L187.15,186.41 L187.40,186.43 L187.65,186.45 L187.90,186.47 L188.15,186.49 L188.40,186.51 L188.65,186.53 L188.90,186.55 L189.15,186.56 L189.40,186.58 L189.65,186.60 L189.90,186.62 L190.15,186.63 L190.40,186.65 L190.65,186.67 L191.40,186.73 L192.15,186.78 L192.90,186.83 L193.65,186.89 L194.40,186.93 L195.15,186.97 L195.90,187.00 L196.65,187.03 L197.40,187.05 L198.15,187.07 L198.90,187.08 L199.65,187.09 L200.40,187.09 L201.15,187.09 L201.90,187.10 L202.65,187.10 L203.40,187.10 L204.15,187.10 L204.90,187.10 L205.65,187.10 L206.40,187.10 L207.15,187.10 L207.90,187.10 L208.65,187.10 L209.40,187.10 L210.15,187.10 L210.90,187.10 L211.65,187.10 L212.40,187.10 L213.15,187.10" fill="none" stroke="#111" stroke-width="0.95" stroke-linejoin="round"/><path d="M165.90,177.80 H176.20 M165.90,176.70 V178.90 M176.20,176.70 V178.90" stroke="#222" stroke-width="1.1" fill="none"/><path d="M181.20,174.10 H203.80 M181.20,173.00 V175.20 M203.80,173.00 V175.20" stroke="#222" stroke-width="1.1" fill="none"/><text x="171.10" y="173.40" font-size="9.8" font-weight="normal" text-anchor="middle" fill="#000" stroke="#000" stroke-width="0.25">16</text><text x="195.40" y="171.10" font-size="15.6" font-weight="normal" text-anchor="middle" fill="#000" stroke="#000" stroke-width="0.1">9.8</text><rect x="226.20" y="136.40" width="50.00" height="51.20" fill="none" stroke="#222" stroke-width="1"/><line x1="225.30" y1="138.40" x2="225.30" y2="187.60" stroke="#444" stroke-width="0.8" stroke-dasharray="0.5 1.3"/><line x1="226.20" y1="188.50" x2="276.20" y2="188.50" stroke="#444" stroke-width="0.8" stroke-dasharray="0.5 1.3"/><line x1="224.40" y1="142.42" x2="226.20" y2="142.42" stroke="#222" stroke-width="0.9"/><text x="225.40" y="143.52" font-size="3.2" font-weight="bold" text-anchor="end" fill="#111" >300</text><line x1="224.40" y1="157.48" x2="226.20" y2="157.48" stroke="#222" stroke-width="0.9"/><text x="225.40" y="158.58" font-size="3.2" font-weight="bold" text-anchor="end" fill="#111" >200</text><line x1="224.40" y1="172.54" x2="226.20" y2="172.54" stroke="#222" stroke-width="0.9"/><text x="225.40" y="173.64" font-size="3.2" font-weight="bold" text-anchor="end" fill="#111" >100</text><text x="225.40" y="188.70" font-size="3.1" font-weight="bold" text-anchor="end" fill="#333" >0</text><line x1="226.20" y1="187.60" x2="226.20" y2="189.40" stroke="#222" stroke-width="0.9"/><text x="226.20" y="192.60" font-size="3.4" font-weight="bold" text-anchor="middle" fill="#111" >0</text><line x1="236.20" y1="187.60" x2="236.20" y2="189.40" stroke="#222" stroke-width="0.9"/><text x="236.20" y="192.60" font-size="3.4" font-weight="bold" text-anchor="middle" fill="#111" >200</text><line x1="246.20" y1="187.60" x2="246.20" y2="189.40" stroke="#222" stroke-width="0.9"/><text x="246.20" y="192.60" font-size="3.4" font-weight="bold" text-anchor="middle" fill="#111" >400</text><line x1="256.20" y1="187.60" x2="256.20" y2="189.40" stroke="#222" stroke-width="0.9"/><text x="256.20" y="192.60" font-size="3.4" font-weight="bold" text-anchor="middle" fill="#111" >600</text><line x1="266.20" y1="187.60" x2="266.20" y2="189.40" stroke="#222" stroke-width="0.9"/><text x="266.20" y="192.60" font-size="3.4" font-weight="bold" text-anchor="middle" fill="#111" >800</text><line x1="276.20" y1="187.60" x2="276.20" y2="189.40" stroke="#222" stroke-width="0.9"/><text x="276.20" y="192.60" font-size="3.4" font-weight="bold" text-anchor="middle" fill="#111" >1000</text><text x="251.20" y="196.00" font-size="3.3" font-weight="bold" text-anchor="middle" fill="#222" >FL2-A</text><path d="M238.90,185.47 L239.20,184.37 L239.44,180.60 L239.66,176.82 L239.86,173.05 L240.03,169.28 L240.19,165.51 L240.32,161.73 L240.44,157.96 L240.53,154.19 L240.61,150.42 L240.66,146.64 L240.69,142.87 L240.70,139.10 L241.30,139.10 L241.31,142.51 L241.34,145.91 L241.39,149.32 L241.47,152.73 L241.56,156.14 L241.68,159.54 L241.81,162.95 L241.97,166.36 L242.14,169.77 L242.34,173.17 L242.56,176.58 L242.80,179.99 L243.15,181.09 L243.15,186.40 L238.90,186.40 Z" fill="#9a9a9a" stroke="none"/><path d="M227.00,186.30 L227.25,186.30 L227.50,186.30 L227.75,186.29 L228.00,186.23 L228.25,186.02 L228.50,185.40 L228.75,184.11 L229.00,182.16 L229.25,180.23 L229.50,179.40 L229.75,179.88 L230.00,180.32 L230.25,180.73 L230.50,181.11 L230.75,181.47 L231.00,181.81 L231.25,182.11 L231.50,182.40 L231.75,182.67 L232.00,182.92 L232.25,183.16 L232.50,183.37 L232.75,183.57 L233.00,183.76 L233.25,183.94 L233.50,184.10 L233.75,184.25 L234.00,184.39 L234.25,184.52 L234.50,184.65 L234.75,184.76 L235.00,184.87 L235.25,184.97 L235.50,185.06 L235.75,185.14 L236.00,185.22 L236.25,185.30 L236.50,185.37 L236.75,185.43 L237.00,185.49 L237.25,185.55 L237.50,185.60 L237.75,185.65 L238.00,185.69 L238.25,185.73 L238.50,185.77 L238.75,185.81 L238.90,185.47 L239.20,184.37 L239.44,180.60 L239.66,176.82 L239.86,173.05 L240.03,169.28 L240.19,165.51 L240.32,161.73 L240.44,157.96 L240.53,154.19 L240.61,150.42 L240.66,146.64 L240.69,142.87 L240.70,139.10 L241.30,139.10 L241.31,142.51 L241.34,145.91 L241.39,149.32 L241.47,152.73 L241.56,156.14 L241.68,159.54 L241.81,162.95 L241.97,166.36 L242.14,169.77 L242.34,173.17 L242.56,176.58 L242.80,179.99 L243.15,181.09 L243.40,182.50 L243.65,182.85 L243.90,183.17 L244.15,183.45 L244.40,183.71 L244.65,183.94 L244.90,184.15 L245.15,184.33 L245.40,184.50 L245.65,184.65 L245.90,184.78 L246.15,184.90 L246.40,185.01 L246.65,185.11 L246.90,185.19 L247.15,185.27 L247.40,185.33 L247.65,185.39 L247.90,185.45 L248.15,185.50 L248.40,185.54 L248.65,185.58 L248.90,185.61 L249.15,185.64 L249.40,185.67 L249.65,185.69 L249.90,185.72 L250.15,185.74 L250.40,185.76 L250.65,185.78 L250.90,185.80 L251.15,185.82 L251.40,185.84 L251.65,185.86 L251.90,185.87 L252.15,185.89 L252.40,185.91 L252.65,185.93 L252.90,185.95 L253.15,185.97 L253.90,186.02 L254.65,186.08 L255.40,186.13 L256.15,186.18 L256.90,186.23 L257.65,186.27 L258.40,186.30 L259.15,186.33 L259.90,186.35 L260.65,186.37 L261.40,186.38 L262.15,186.38 L262.90,186.39 L263.65,186.39 L264.40,186.40 L265.15,186.40 L265.90,186.40 L266.65,186.40 L267.40,186.40 L268.15,186.40 L268.90,186.40 L269.65,186.40 L270.40,186.40 L271.15,186.40 L271.90,186.40 L272.65,186.40 L273.40,186.40 L274.15,186.40 L274.90,186.40" fill="none" stroke="#111" stroke-width="0.95" stroke-linejoin="round"/><path d="M228.20,176.10 H238.50 M228.20,175.00 V177.20 M238.50,175.00 V177.20" stroke="#222" stroke-width="1.1" fill="none"/><path d="M243.00,172.80 H265.50 M243.00,171.70 V173.90 M265.50,171.70 V173.90" stroke="#222" stroke-width="1.1" fill="none"/><text x="233.55" y="172.90" font-size="9.8" font-weight="normal" text-anchor="middle" fill="#000" stroke="#000" stroke-width="0.25">23</text><text x="257.90" y="168.80" font-size="15.6" font-weight="normal" text-anchor="middle" fill="#000" stroke="#000" stroke-width="0.1">8.4</text><rect x="285.90" y="138.20" width="50.70" height="50.30" fill="none" stroke="#222" stroke-width="1"/><line x1="285.00" y1="140.20" x2="285.00" y2="188.50" stroke="#444" stroke-width="0.8" stroke-dasharray="0.5 1.3"/><line x1="285.90" y1="189.40" x2="336.60" y2="189.40" stroke="#444" stroke-width="0.8" stroke-dasharray="0.5 1.3"/><line x1="284.10" y1="144.12" x2="285.90" y2="144.12" stroke="#222" stroke-width="0.9"/><text x="285.10" y="145.22" font-size="3.2" font-weight="bold" text-anchor="end" fill="#111" >150</text><line x1="284.10" y1="158.91" x2="285.90" y2="158.91" stroke="#222" stroke-width="0.9"/><text x="285.10" y="160.01" font-size="3.2" font-weight="bold" text-anchor="end" fill="#111" >100</text><line x1="284.10" y1="173.71" x2="285.90" y2="173.71" stroke="#222" stroke-width="0.9"/><text x="285.10" y="174.81" font-size="3.2" font-weight="bold" text-anchor="end" fill="#111" >50</text><text x="285.10" y="189.60" font-size="3.1" font-weight="bold" text-anchor="end" fill="#333" >0</text><line x1="285.90" y1="188.50" x2="285.90" y2="190.30" stroke="#222" stroke-width="0.9"/><text x="285.90" y="193.50" font-size="3.4" font-weight="bold" text-anchor="middle" fill="#111" >0</text><line x1="296.04" y1="188.50" x2="296.04" y2="190.30" stroke="#222" stroke-width="0.9"/><text x="296.04" y="193.50" font-size="3.4" font-weight="bold" text-anchor="middle" fill="#111" >200</text><line x1="306.18" y1="188.50" x2="306.18" y2="190.30" stroke="#222" stroke-width="0.9"/><text x="306.18" y="193.50" font-size="3.4" font-weight="bold" text-anchor="middle" fill="#111" >400</text><line x1="316.32" y1="188.50" x2="316.32" y2="190.30" stroke="#222" stroke-width="0.9"/><text x="316.32" y="193.50" font-size="3.4" font-weight="bold" text-anchor="middle" fill="#111" >600</text><line x1="326.46" y1="188.50" x2="326.46" y2="190.30" stroke="#222" stroke-width="0.9"/><text x="326.46" y="193.50" font-size="3.4" font-weight="bold" text-anchor="middle" fill="#111" >800</text><line x1="336.60" y1="188.50" x2="336.60" y2="190.30" stroke="#222" stroke-width="0.9"/><text x="336.60" y="193.50" font-size="3.4" font-weight="bold" text-anchor="middle" fill="#111" >1000</text><text x="311.25" y="196.90" font-size="3.3" font-weight="bold" text-anchor="middle" fill="#222" >FL2-A</text><path d="M299.10,186.19 L299.40,185.09 L299.64,181.40 L299.86,177.72 L300.06,174.04 L300.23,170.36 L300.39,166.68 L300.52,162.99 L300.64,159.31 L300.73,155.63 L300.81,151.95 L300.86,148.26 L300.89,144.58 L300.90,140.90 L301.50,140.90 L301.51,144.29 L301.54,147.68 L301.59,151.08 L301.67,154.47 L301.76,157.86 L301.88,161.25 L302.01,164.64 L302.17,168.03 L302.34,171.43 L302.54,174.82 L302.76,178.21 L303.00,181.60 L303.35,182.70 L303.35,187.30 L299.10,187.30 Z" fill="#9a9a9a" stroke="none"/><path d="M286.70,187.20 L286.95,187.20 L287.20,187.20 L287.45,187.20 L287.70,187.20 L287.95,187.20 L288.20,187.20 L288.45,187.18 L288.70,187.11 L288.95,186.85 L289.20,186.10 L289.45,184.50 L289.70,182.10 L289.95,179.72 L290.20,178.70 L290.45,179.29 L290.70,179.83 L290.95,180.34 L291.20,180.81 L291.45,181.25 L291.70,181.66 L291.95,182.04 L292.20,182.40 L292.45,182.73 L292.70,183.04 L292.95,183.33 L293.20,183.59 L293.45,183.84 L293.70,184.07 L293.95,184.29 L294.20,184.49 L294.45,184.68 L294.70,184.85 L294.95,185.01 L295.20,185.16 L295.45,185.30 L295.70,185.43 L295.95,185.56 L296.20,185.67 L296.45,185.77 L296.70,185.87 L296.95,185.96 L297.20,186.05 L297.45,186.13 L297.70,186.20 L297.95,186.27 L298.20,186.34 L298.45,186.40 L298.70,186.45 L298.95,186.50 L299.10,186.19 L299.40,185.09 L299.64,181.40 L299.86,177.72 L300.06,174.04 L300.23,170.36 L300.39,166.68 L300.52,162.99 L300.64,159.31 L300.73,155.63 L300.81,151.95 L300.86,148.26 L300.89,144.58 L300.90,140.90 L301.50,140.90 L301.51,144.29 L301.54,147.68 L301.59,151.08 L301.67,154.47 L301.76,157.86 L301.88,161.25 L302.01,164.64 L302.17,168.03 L302.34,171.43 L302.54,174.82 L302.76,178.21 L303.00,181.60 L303.35,182.70 L303.60,184.41 L303.85,184.82 L304.10,185.16 L304.35,185.45 L304.60,185.69 L304.85,185.90 L305.10,186.07 L305.35,186.22 L305.60,186.34 L305.85,186.44 L306.10,186.52 L306.35,186.59 L306.60,186.64 L306.85,186.69 L307.10,186.73 L307.35,186.76 L307.60,186.78 L307.85,186.80 L308.10,186.81 L308.35,186.82 L308.60,186.83 L308.85,186.84 L309.10,186.84 L309.35,186.84 L309.60,186.85 L309.85,186.85 L310.10,186.85 L310.35,186.85 L310.60,186.85 L310.85,186.86 L311.10,186.86 L311.35,186.87 L311.60,186.87 L311.85,186.88 L312.10,186.88 L312.35,186.89 L312.60,186.90 L312.85,186.91 L313.10,186.92 L313.35,186.93 L314.10,186.97 L314.85,187.01 L315.60,187.06 L316.35,187.10 L317.10,187.14 L317.85,187.18 L318.60,187.21 L319.35,187.23 L320.10,187.25 L320.85,187.27 L321.60,187.28 L322.35,187.29 L323.10,187.29 L323.85,187.29 L324.60,187.30 L325.35,187.30 L326.10,187.30 L326.85,187.30 L327.60,187.30 L328.35,187.30 L329.10,187.30 L329.85,187.30 L330.60,187.30 L331.35,187.30 L332.10,187.30 L332.85,187.30 L333.60,187.30 L334.35,187.30 L335.10,187.30" fill="none" stroke="#111" stroke-width="0.95" stroke-linejoin="round"/><path d="M288.20,177.20 H298.50 M288.20,176.10 V178.30 M298.50,176.10 V178.30" stroke="#222" stroke-width="1.1" fill="none"/><path d="M303.40,174.50 H325.90 M303.40,173.40 V175.60 M325.90,173.40 V175.60" stroke="#222" stroke-width="1.1" fill="none"/><text x="293.35" y="173.80" font-size="9.8" font-weight="normal" text-anchor="middle" fill="#000" stroke="#000" stroke-width="0.25">28</text><text x="318.10" y="167.50" font-size="15.6" font-weight="normal" text-anchor="middle" fill="#000" stroke="#000" stroke-width="0.1">4.6</text><rect x="346.20" y="138.20" width="50.80" height="50.10" fill="none" stroke="#222" stroke-width="1"/><line x1="345.30" y1="140.20" x2="345.30" y2="188.30" stroke="#444" stroke-width="0.8" stroke-dasharray="0.5 1.3"/><line x1="346.20" y1="189.20" x2="397.00" y2="189.20" stroke="#444" stroke-width="0.8" stroke-dasharray="0.5 1.3"/><line x1="344.40" y1="142.75" x2="346.20" y2="142.75" stroke="#222" stroke-width="0.9"/><text x="345.40" y="143.85" font-size="3.2" font-weight="bold" text-anchor="end" fill="#111" >120</text><line x1="344.40" y1="154.14" x2="346.20" y2="154.14" stroke="#222" stroke-width="0.9"/><text x="345.40" y="155.24" font-size="3.2" font-weight="bold" text-anchor="end" fill="#111" >90</text><line x1="344.40" y1="165.53" x2="346.20" y2="165.53" stroke="#222" stroke-width="0.9"/><text x="345.40" y="166.63" font-size="3.2" font-weight="bold" text-anchor="end" fill="#111" >60</text><line x1="344.40" y1="176.91" x2="346.20" y2="176.91" stroke="#222" stroke-width="0.9"/><text x="345.40" y="178.01" font-size="3.2" font-weight="bold" text-anchor="end" fill="#111" >30</text><text x="345.40" y="189.40" font-size="3.1" font-weight="bold" text-anchor="end" fill="#333" >0</text><line x1="346.20" y1="188.30" x2="346.20" y2="190.10" stroke="#222" stroke-width="0.9"/><text x="346.20" y="193.30" font-size="3.4" font-weight="bold" text-anchor="middle" fill="#111" >0</text><line x1="356.36" y1="188.30" x2="356.36" y2="190.10" stroke="#222" stroke-width="0.9"/><text x="356.36" y="193.30" font-size="3.4" font-weight="bold" text-anchor="middle" fill="#111" >200</text><line x1="366.52" y1="188.30" x2="366.52" y2="190.10" stroke="#222" stroke-width="0.9"/><text x="366.52" y="193.30" font-size="3.4" font-weight="bold" text-anchor="middle" fill="#111" >400</text><line x1="376.68" y1="188.30" x2="376.68" y2="190.10" stroke="#222" stroke-width="0.9"/><text x="376.68" y="193.30" font-size="3.4" font-weight="bold" text-anchor="middle" fill="#111" >600</text><line x1="386.84" y1="188.30" x2="386.84" y2="190.10" stroke="#222" stroke-width="0.9"/><text x="386.84" y="193.30" font-size="3.4" font-weight="bold" text-anchor="middle" fill="#111" >800</text><line x1="397.00" y1="188.30" x2="397.00" y2="190.10" stroke="#222" stroke-width="0.9"/><text x="397.00" y="193.30" font-size="3.4" font-weight="bold" text-anchor="middle" fill="#111" >1000</text><text x="371.60" y="196.70" font-size="3.3" font-weight="bold" text-anchor="middle" fill="#222" >FL2-A</text><path d="M359.80,185.22 L360.10,184.12 L360.34,180.52 L360.56,176.91 L360.76,173.31 L360.93,169.71 L361.09,166.11 L361.22,162.51 L361.34,158.91 L361.43,155.31 L361.51,151.70 L361.56,148.10 L361.59,144.50 L361.60,140.90 L362.20,140.90 L362.21,143.91 L362.24,146.93 L362.29,149.94 L362.37,152.96 L362.46,155.97 L362.57,158.99 L362.71,162.00 L362.87,165.01 L363.04,168.03 L363.24,171.04 L363.46,174.06 L363.70,177.07 L364.05,178.17 L364.05,187.10 L359.80,187.10 Z" fill="#9a9a9a" stroke="none"/><path d="M347.00,187.00 L347.25,187.00 L347.50,187.00 L347.75,187.00 L348.00,187.00 L348.25,186.99 L348.50,186.92 L348.75,186.58 L349.00,185.39 L349.25,182.16 L349.50,175.78 L349.75,166.82 L350.00,158.89 L350.25,156.97 L350.50,159.23 L350.75,161.32 L351.00,163.25 L351.25,165.03 L351.50,166.68 L351.75,168.21 L352.00,169.62 L352.25,170.93 L352.50,172.14 L352.75,173.25 L353.00,174.29 L353.25,175.24 L353.50,176.12 L353.75,176.94 L354.00,177.70 L354.25,178.40 L354.50,179.04 L354.75,179.64 L355.00,180.19 L355.25,180.71 L355.50,181.18 L355.75,181.62 L356.00,182.02 L356.25,182.40 L356.50,182.74 L356.75,183.06 L357.00,183.36 L357.25,183.63 L357.50,183.88 L357.75,184.12 L358.00,184.33 L358.25,184.54 L358.50,184.72 L358.75,184.89 L359.00,185.05 L359.25,185.20 L359.50,185.33 L359.75,185.46 L359.80,185.22 L360.10,184.12 L360.34,180.52 L360.56,176.91 L360.76,173.31 L360.93,169.71 L361.09,166.11 L361.22,162.51 L361.34,158.91 L361.43,155.31 L361.51,151.70 L361.56,148.10 L361.59,144.50 L361.60,140.90 L362.20,140.90 L362.21,143.91 L362.24,146.93 L362.29,149.94 L362.37,152.96 L362.46,155.97 L362.57,158.99 L362.71,162.00 L362.87,165.01 L363.04,168.03 L363.24,171.04 L363.46,174.06 L363.70,177.07 L364.05,178.17 L364.30,179.39 L364.55,179.71 L364.80,180.01 L365.05,180.30 L365.30,180.57 L365.55,180.83 L365.80,181.08 L366.05,181.31 L366.30,181.54 L366.55,181.75 L366.80,181.95 L367.05,182.15 L367.30,182.33 L367.55,182.51 L367.80,182.68 L368.05,182.84 L368.30,182.99 L368.55,183.14 L368.80,183.28 L369.05,183.41 L369.30,183.54 L369.55,183.66 L369.80,183.78 L370.05,183.89 L370.30,184.00 L370.55,184.11 L370.80,184.21 L371.05,184.31 L371.30,184.40 L371.55,184.50 L371.80,184.59 L372.05,184.67 L372.30,184.76 L372.55,184.84 L372.80,184.92 L373.05,185.00 L373.30,185.08 L373.55,185.16 L373.80,185.23 L374.05,185.30 L374.80,185.51 L375.55,185.70 L376.30,185.88 L377.05,186.04 L377.80,186.18 L378.55,186.30 L379.30,186.41 L380.05,186.51 L380.80,186.59 L381.55,186.66 L382.30,186.72 L383.05,186.77 L383.80,186.81 L384.55,186.85 L385.30,186.88 L386.05,186.90 L386.80,186.93 L387.55,186.95 L388.30,186.97 L389.05,186.98 L389.80,187.00 L390.55,187.01 L391.30,187.02 L392.05,187.03 L392.80,187.04 L393.55,187.04 L394.30,187.05 L395.05,187.06 L395.80,187.06" fill="none" stroke="#111" stroke-width="0.95" stroke-linejoin="round"/><path d="M348.80,177.50 H359.30 M348.80,176.40 V178.60 M359.30,176.40 V178.60" stroke="#222" stroke-width="1.1" fill="none"/><path d="M364.30,174.50 H386.30 M364.30,173.40 V175.60 M386.30,173.40 V175.60" stroke="#222" stroke-width="1.1" fill="none"/><text x="353.25" y="154.60" font-size="9.8" font-weight="normal" text-anchor="middle" fill="#000" stroke="#000" stroke-width="0.25">41</text><text x="377.10" y="166.70" font-size="15.6" font-weight="normal" text-anchor="middle" fill="#000" stroke="#000" stroke-width="0.1">22</text><rect x="405.50" y="137.80" width="51.10" height="50.20" fill="none" stroke="#222" stroke-width="1"/><line x1="404.60" y1="139.80" x2="404.60" y2="188.00" stroke="#444" stroke-width="0.8" stroke-dasharray="0.5 1.3"/><line x1="405.50" y1="188.90" x2="456.60" y2="188.90" stroke="#444" stroke-width="0.8" stroke-dasharray="0.5 1.3"/><line x1="403.70" y1="141.52" x2="405.50" y2="141.52" stroke="#222" stroke-width="0.9"/><text x="404.70" y="142.62" font-size="3.2" font-weight="bold" text-anchor="end" fill="#111" >250</text><line x1="403.70" y1="150.81" x2="405.50" y2="150.81" stroke="#222" stroke-width="0.9"/><text x="404.70" y="151.91" font-size="3.2" font-weight="bold" text-anchor="end" fill="#111" >200</text><line x1="403.70" y1="160.11" x2="405.50" y2="160.11" stroke="#222" stroke-width="0.9"/><text x="404.70" y="161.21" font-size="3.2" font-weight="bold" text-anchor="end" fill="#111" >150</text><line x1="403.70" y1="169.41" x2="405.50" y2="169.41" stroke="#222" stroke-width="0.9"/><text x="404.70" y="170.51" font-size="3.2" font-weight="bold" text-anchor="end" fill="#111" >100</text><line x1="403.70" y1="178.70" x2="405.50" y2="178.70" stroke="#222" stroke-width="0.9"/><text x="404.70" y="179.80" font-size="3.2" font-weight="bold" text-anchor="end" fill="#111" >50</text><text x="404.70" y="189.10" font-size="3.1" font-weight="bold" text-anchor="end" fill="#333" >0</text><line x1="405.50" y1="188.00" x2="405.50" y2="189.80" stroke="#222" stroke-width="0.9"/><text x="405.50" y="193.00" font-size="3.4" font-weight="bold" text-anchor="middle" fill="#111" >0</text><line x1="415.72" y1="188.00" x2="415.72" y2="189.80" stroke="#222" stroke-width="0.9"/><text x="415.72" y="193.00" font-size="3.4" font-weight="bold" text-anchor="middle" fill="#111" >200</text><line x1="425.94" y1="188.00" x2="425.94" y2="189.80" stroke="#222" stroke-width="0.9"/><text x="425.94" y="193.00" font-size="3.4" font-weight="bold" text-anchor="middle" fill="#111" >400</text><line x1="436.16" y1="188.00" x2="436.16" y2="189.80" stroke="#222" stroke-width="0.9"/><text x="436.16" y="193.00" font-size="3.4" font-weight="bold" text-anchor="middle" fill="#111" >600</text><line x1="446.38" y1="188.00" x2="446.38" y2="189.80" stroke="#222" stroke-width="0.9"/><text x="446.38" y="193.00" font-size="3.4" font-weight="bold" text-anchor="middle" fill="#111" >800</text><line x1="456.60" y1="188.00" x2="456.60" y2="189.80" stroke="#222" stroke-width="0.9"/><text x="456.60" y="193.00" font-size="3.4" font-weight="bold" text-anchor="middle" fill="#111" >1000</text><text x="431.05" y="196.40" font-size="3.3" font-weight="bold" text-anchor="middle" fill="#222" >FL2-A</text><path d="M418.60,185.09 L418.90,183.99 L419.14,180.37 L419.36,176.74 L419.56,173.12 L419.73,169.50 L419.89,165.87 L420.02,162.25 L420.14,158.62 L420.23,155.00 L420.31,151.37 L420.36,147.75 L420.39,144.12 L420.40,140.50 L421.00,140.50 L421.01,143.76 L421.04,147.03 L421.09,150.29 L421.17,153.55 L421.26,156.82 L421.38,160.08 L421.51,163.35 L421.67,166.61 L421.84,169.87 L422.04,173.14 L422.26,176.40 L422.50,179.66 L422.85,180.76 L422.85,186.80 L418.60,186.80 Z" fill="#9a9a9a" stroke="none"/><path d="M406.30,186.70 L406.55,186.70 L406.80,186.70 L407.05,186.70 L407.30,186.70 L407.55,186.69 L407.80,186.65 L408.05,186.46 L408.30,185.76 L408.55,183.89 L408.80,180.19 L409.05,174.99 L409.30,170.39 L409.55,169.25 L409.80,170.45 L410.05,171.57 L410.30,172.62 L410.55,173.59 L410.80,174.49 L411.05,175.33 L411.30,176.12 L411.55,176.85 L411.80,177.53 L412.05,178.16 L412.30,178.75 L412.55,179.30 L412.80,179.81 L413.05,180.28 L413.30,180.72 L413.55,181.14 L413.80,181.52 L414.05,181.88 L414.30,182.21 L414.55,182.52 L414.80,182.81 L415.05,183.08 L415.30,183.32 L415.55,183.56 L415.80,183.77 L416.05,183.98 L416.30,184.16 L416.55,184.34 L416.80,184.50 L417.05,184.65 L417.30,184.79 L417.55,184.93 L417.80,185.05 L418.05,185.16 L418.30,185.27 L418.55,185.37 L418.60,185.09 L418.90,183.99 L419.14,180.37 L419.36,176.74 L419.56,173.12 L419.73,169.50 L419.89,165.87 L420.02,162.25 L420.14,158.62 L420.23,155.00 L420.31,151.37 L420.36,147.75 L420.39,144.12 L420.40,140.50 L421.00,140.50 L421.01,143.76 L421.04,147.03 L421.09,150.29 L421.17,153.55 L421.26,156.82 L421.38,160.08 L421.51,163.35 L421.67,166.61 L421.84,169.87 L422.04,173.14 L422.26,176.40 L422.50,179.66 L422.85,180.76 L423.10,182.15 L423.35,182.50 L423.60,182.82 L423.85,183.12 L424.10,183.39 L424.35,183.64 L424.60,183.87 L424.85,184.08 L425.10,184.27 L425.35,184.44 L425.60,184.60 L425.85,184.74 L426.10,184.87 L426.35,185.00 L426.60,185.10 L426.85,185.20 L427.10,185.30 L427.35,185.38 L427.60,185.45 L427.85,185.52 L428.10,185.59 L428.35,185.64 L428.60,185.70 L428.85,185.75 L429.10,185.79 L429.35,185.83 L429.60,185.87 L429.85,185.91 L430.10,185.95 L430.35,185.98 L430.60,186.01 L430.85,186.04 L431.10,186.07 L431.35,186.10 L431.60,186.13 L431.85,186.16 L432.10,186.18 L432.35,186.21 L432.60,186.24 L432.85,186.26 L433.60,186.34 L434.35,186.41 L435.10,186.48 L435.85,186.54 L436.60,186.59 L437.35,186.64 L438.10,186.68 L438.85,186.71 L439.60,186.74 L440.35,186.75 L441.10,186.77 L441.85,186.78 L442.60,186.78 L443.35,186.79 L444.10,186.79 L444.85,186.79 L445.60,186.80 L446.35,186.80 L447.10,186.80 L447.85,186.80 L448.60,186.80 L449.35,186.80 L450.10,186.80 L450.85,186.80 L451.60,186.80 L452.35,186.80 L453.10,186.80 L453.85,186.80 L454.60,186.80 L455.35,186.80" fill="none" stroke="#111" stroke-width="0.95" stroke-linejoin="round"/><path d="M408.20,177.20 H418.30 M408.20,176.10 V178.30 M418.30,176.10 V178.30" stroke="#222" stroke-width="1.1" fill="none"/><path d="M423.00,174.10 H445.50 M423.00,173.00 V175.20 M445.50,173.00 V175.20" stroke="#222" stroke-width="1.1" fill="none"/><text x="412.55" y="165.70" font-size="9.8" font-weight="normal" text-anchor="middle" fill="#000" stroke="#000" stroke-width="0.25">41</text><text x="438.80" y="166.40" font-size="15.6" font-weight="normal" text-anchor="middle" fill="#000" stroke="#000" stroke-width="0.1">7.9</text><rect x="465.50" y="138.20" width="51.10" height="50.10" fill="none" stroke="#222" stroke-width="1"/><line x1="464.60" y1="140.20" x2="464.60" y2="188.30" stroke="#444" stroke-width="0.8" stroke-dasharray="0.5 1.3"/><line x1="465.50" y1="189.20" x2="516.60" y2="189.20" stroke="#444" stroke-width="0.8" stroke-dasharray="0.5 1.3"/><line x1="463.70" y1="144.09" x2="465.50" y2="144.09" stroke="#222" stroke-width="0.9"/><text x="464.70" y="145.19" font-size="3.2" font-weight="bold" text-anchor="end" fill="#111" >600</text><line x1="463.70" y1="158.83" x2="465.50" y2="158.83" stroke="#222" stroke-width="0.9"/><text x="464.70" y="159.93" font-size="3.2" font-weight="bold" text-anchor="end" fill="#111" >400</text><line x1="463.70" y1="173.56" x2="465.50" y2="173.56" stroke="#222" stroke-width="0.9"/><text x="464.70" y="174.66" font-size="3.2" font-weight="bold" text-anchor="end" fill="#111" >200</text><text x="464.70" y="189.40" font-size="3.1" font-weight="bold" text-anchor="end" fill="#333" >0</text><line x1="465.50" y1="188.30" x2="465.50" y2="190.10" stroke="#222" stroke-width="0.9"/><text x="465.50" y="193.30" font-size="3.4" font-weight="bold" text-anchor="middle" fill="#111" >0</text><line x1="475.72" y1="188.30" x2="475.72" y2="190.10" stroke="#222" stroke-width="0.9"/><text x="475.72" y="193.30" font-size="3.4" font-weight="bold" text-anchor="middle" fill="#111" >200</text><line x1="485.94" y1="188.30" x2="485.94" y2="190.10" stroke="#222" stroke-width="0.9"/><text x="485.94" y="193.30" font-size="3.4" font-weight="bold" text-anchor="middle" fill="#111" >400</text><line x1="496.16" y1="188.30" x2="496.16" y2="190.10" stroke="#222" stroke-width="0.9"/><text x="496.16" y="193.30" font-size="3.4" font-weight="bold" text-anchor="middle" fill="#111" >600</text><line x1="506.38" y1="188.30" x2="506.38" y2="190.10" stroke="#222" stroke-width="0.9"/><text x="506.38" y="193.30" font-size="3.4" font-weight="bold" text-anchor="middle" fill="#111" >800</text><line x1="516.60" y1="188.30" x2="516.60" y2="190.10" stroke="#222" stroke-width="0.9"/><text x="516.60" y="193.30" font-size="3.4" font-weight="bold" text-anchor="middle" fill="#111" >1000</text><text x="491.05" y="196.70" font-size="3.3" font-weight="bold" text-anchor="middle" fill="#222" >FL2-A</text><path d="M478.60,186.60 L478.90,185.50 L479.14,181.75 L479.36,178.00 L479.56,174.25 L479.73,170.50 L479.89,166.75 L480.02,163.00 L480.14,159.25 L480.23,155.50 L480.31,151.75 L480.36,148.00 L480.39,144.25 L480.40,140.50 L481.00,140.50 L481.01,143.93 L481.04,147.35 L481.09,150.78 L481.17,154.21 L481.26,157.63 L481.38,161.06 L481.51,164.49 L481.67,167.91 L481.84,171.34 L482.04,174.77 L482.26,178.19 L482.50,181.62 L482.85,182.72 L482.85,187.10 L478.60,187.10 Z" fill="#9a9a9a" stroke="none"/><path d="M466.30,187.00 L466.55,187.00 L466.80,187.00 L467.05,187.00 L467.30,187.00 L467.55,187.00 L467.80,187.00 L468.05,187.00 L468.30,187.00 L468.55,187.00 L468.80,187.00 L469.05,187.00 L469.30,187.00 L469.55,187.00 L469.80,187.00 L470.05,187.00 L470.30,187.00 L470.55,187.00 L470.80,187.00 L471.05,187.00 L471.30,187.00 L471.55,187.00 L471.80,187.00 L472.05,187.00 L472.30,187.00 L472.55,187.00 L472.80,187.00 L473.05,187.00 L473.30,187.00 L473.55,187.00 L473.80,187.00 L474.05,187.00 L474.30,187.00 L474.55,187.00 L474.80,187.00 L475.05,187.00 L475.30,187.00 L475.55,187.00 L475.80,187.00 L476.05,187.00 L476.30,187.00 L476.55,187.00 L476.80,187.00 L477.05,187.00 L477.30,187.00 L477.55,187.00 L477.80,187.00 L478.05,187.00 L478.30,187.00 L478.55,187.00 L478.60,186.60 L478.90,185.50 L479.14,181.75 L479.36,178.00 L479.56,174.25 L479.73,170.50 L479.89,166.75 L480.02,163.00 L480.14,159.25 L480.23,155.50 L480.31,151.75 L480.36,148.00 L480.39,144.25 L480.40,140.50 L481.00,140.50 L481.01,143.93 L481.04,147.35 L481.09,150.78 L481.17,154.21 L481.26,157.63 L481.38,161.06 L481.51,164.49 L481.67,167.91 L481.84,171.34 L482.04,174.77 L482.26,178.19 L482.50,181.62 L482.85,182.72 L483.10,184.39 L483.35,184.79 L483.60,185.12 L483.85,185.40 L484.10,185.63 L484.35,185.83 L484.60,185.99 L484.85,186.13 L485.10,186.24 L485.35,186.33 L485.60,186.41 L485.85,186.47 L486.10,186.52 L486.35,186.56 L486.60,186.59 L486.85,186.62 L487.10,186.64 L487.35,186.65 L487.60,186.66 L487.85,186.67 L488.10,186.67 L488.35,186.68 L488.60,186.68 L488.85,186.68 L489.10,186.68 L489.35,186.68 L489.60,186.68 L489.85,186.68 L490.10,186.68 L490.35,186.68 L490.60,186.68 L490.85,186.69 L491.10,186.69 L491.35,186.69 L491.60,186.70 L491.85,186.71 L492.10,186.71 L492.35,186.72 L492.60,186.73 L492.85,186.74 L493.60,186.78 L494.35,186.82 L495.10,186.87 L495.85,186.91 L496.60,186.95 L497.35,186.98 L498.10,187.01 L498.85,187.04 L499.60,187.06 L500.35,187.07 L501.10,187.08 L501.85,187.09 L502.60,187.09 L503.35,187.10 L504.10,187.10 L504.85,187.10 L505.60,187.10 L506.35,187.10 L507.10,187.10 L507.85,187.10 L508.60,187.10 L509.35,187.10 L510.10,187.10 L510.85,187.10 L511.60,187.10 L512.35,187.10 L513.10,187.10 L513.85,187.10 L514.60,187.10 L515.35,187.10" fill="none" stroke="#111" stroke-width="0.95" stroke-linejoin="round"/><path d="M467.80,177.80 H478.50 M467.80,176.70 V178.90 M478.50,176.70 V178.90" stroke="#222" stroke-width="1.1" fill="none"/><path d="M483.00,174.10 H505.50 M483.00,173.00 V175.20 M505.50,173.00 V175.20" stroke="#222" stroke-width="1.1" fill="none"/><text x="472.60" y="172.90" font-size="9.8" font-weight="normal" text-anchor="middle" fill="#000" stroke="#000" stroke-width="0.25">6.8</text><text x="495.60" y="169.10" font-size="15.6" font-weight="normal" text-anchor="middle" fill="#000" stroke="#000" stroke-width="0.1">1.8</text><line x1="44.50" y1="426.86" x2="506.00" y2="426.86" stroke="#666" stroke-width="1.1" stroke-dasharray="1.8 1.75"/><line x1="44.50" y1="400.41" x2="506.00" y2="400.41" stroke="#666" stroke-width="1.1" stroke-dasharray="1.8 1.75"/><line x1="44.50" y1="373.97" x2="506.00" y2="373.97" stroke="#666" stroke-width="1.1" stroke-dasharray="1.8 1.75"/><line x1="44.50" y1="347.52" x2="506.00" y2="347.52" stroke="#666" stroke-width="1.1" stroke-dasharray="1.8 1.75"/><line x1="44.50" y1="321.08" x2="506.00" y2="321.08" stroke="#666" stroke-width="1.1" stroke-dasharray="1.8 1.75"/><line x1="44.50" y1="294.63" x2="506.00" y2="294.63" stroke="#666" stroke-width="1.1" stroke-dasharray="1.8 1.75"/><line x1="44.50" y1="268.19" x2="506.00" y2="268.19" stroke="#666" stroke-width="1.1" stroke-dasharray="1.8 1.75"/><line x1="44.50" y1="241.74" x2="506.00" y2="241.74" stroke="#666" stroke-width="1.1" stroke-dasharray="1.8 1.75"/><path d="M43.50,215.30 H506.50 V453.30" stroke="#777" stroke-width="1.2" fill="none"/><rect x="54.3" y="225.4" width="70.3" height="55.9" fill="#fff" stroke="#555" stroke-width="1"/><rect x="59.9" y="231.0" width="9.6" height="9.3" fill="#fff" stroke="#222" stroke-width="1"/><rect x="59.9" y="249.8" width="9.6" height="9.3" fill="#777" stroke="#222" stroke-width="1"/><rect x="59.9" y="268.6" width="9.6" height="9.3" fill="#000" stroke="#222" stroke-width="1"/><text x="72.60" y="240.50" font-size="14.5" font-weight="bold" text-anchor="start" fill="#000" stroke="#000" stroke-width="0.3">T1</text><text x="72.60" y="259.30" font-size="14.5" font-weight="bold" text-anchor="start" fill="#000" stroke="#000" stroke-width="0.3">Int</text><text x="72.60" y="278.10" font-size="14.5" font-weight="bold" text-anchor="start" fill="#000" stroke="#000" stroke-width="0.3">Mature</text><path d="M59.34,439.02 V434.39 M56.74,434.39 H61.94" stroke="#000" stroke-width="1.1" fill="none"/><rect x="52.79" y="439.02" width="13.10" height="14.28" fill="#fff" stroke="#000" stroke-width="1.1"/><path d="M72.44,442.33 V436.11 M69.84,436.11 H75.04" stroke="#000" stroke-width="1.1" fill="none"/><rect x="65.89" y="442.33" width="13.10" height="10.97" fill="#777" stroke="#000" stroke-width="1.1"/><path d="M85.54,440.08 V435.19 M82.94,435.19 H88.14" stroke="#000" stroke-width="1.1" fill="none"/><rect x="78.99" y="440.08" width="13.10" height="13.22" fill="#000" stroke="#000" stroke-width="1.1"/><path d="M117.21,431.22 V428.97 M114.61,428.97 H119.81" stroke="#000" stroke-width="1.1" fill="none"/><rect x="110.66" y="431.22" width="13.10" height="22.08" fill="#fff" stroke="#000" stroke-width="1.1"/><path d="M130.31,439.55 V436.64 M127.71,436.64 H132.91" stroke="#000" stroke-width="1.1" fill="none"/><rect x="123.76" y="439.55" width="13.10" height="13.75" fill="#777" stroke="#000" stroke-width="1.1"/><path d="M143.41,434.26 V430.29 M140.81,430.29 H146.01" stroke="#000" stroke-width="1.1" fill="none"/><rect x="136.86" y="434.26" width="13.10" height="19.04" fill="#000" stroke="#000" stroke-width="1.1"/><path d="M175.09,429.50 V427.52 M172.49,427.52 H177.69" stroke="#000" stroke-width="1.1" fill="none"/><rect x="168.54" y="429.50" width="13.10" height="23.80" fill="#fff" stroke="#000" stroke-width="1.1"/><path d="M188.19,404.51 V398.69 M185.59,398.69 H190.79" stroke="#000" stroke-width="1.1" fill="none"/><rect x="181.64" y="404.51" width="13.10" height="48.79" fill="#777" stroke="#000" stroke-width="1.1"/><path d="M201.29,386.00 V364.05 M198.69,364.05 H203.89" stroke="#000" stroke-width="1.1" fill="none"/><rect x="194.74" y="386.00" width="13.10" height="67.30" fill="#000" stroke="#000" stroke-width="1.1"/><path d="M232.96,388.38 V377.80 M230.36,377.80 H235.56" stroke="#000" stroke-width="1.1" fill="none"/><rect x="226.41" y="388.38" width="13.10" height="64.92" fill="#fff" stroke="#000" stroke-width="1.1"/><path d="M246.06,361.80 V346.60 M243.46,346.60 H248.66" stroke="#000" stroke-width="1.1" fill="none"/><rect x="239.51" y="361.80" width="13.10" height="91.50" fill="#777" stroke="#000" stroke-width="1.1"/><path d="M259.16,353.08 V341.57 M256.56,341.57 H261.76" stroke="#000" stroke-width="1.1" fill="none"/><rect x="252.61" y="353.08" width="13.10" height="100.22" fill="#000" stroke="#000" stroke-width="1.1"/><path d="M290.84,429.50 V427.52 M288.24,427.52 H293.44" stroke="#000" stroke-width="1.1" fill="none"/><rect x="284.29" y="429.50" width="13.10" height="23.80" fill="#fff" stroke="#000" stroke-width="1.1"/><path d="M303.94,433.60 V428.31 M301.34,428.31 H306.54" stroke="#000" stroke-width="1.1" fill="none"/><rect x="297.39" y="433.60" width="13.10" height="19.70" fill="#777" stroke="#000" stroke-width="1.1"/><path d="M317.04,422.36 V412.18 M314.44,412.18 H319.64" stroke="#000" stroke-width="1.1" fill="none"/><rect x="310.49" y="422.36" width="13.10" height="30.94" fill="#000" stroke="#000" stroke-width="1.1"/><path d="M348.71,369.47 V359.55 M346.11,359.55 H351.31" stroke="#000" stroke-width="1.1" fill="none"/><rect x="342.16" y="369.47" width="13.10" height="83.83" fill="#fff" stroke="#000" stroke-width="1.1"/><path d="M361.81,326.10 V308.65 M359.21,308.65 H364.41" stroke="#000" stroke-width="1.1" fill="none"/><rect x="355.26" y="326.10" width="13.10" height="127.20" fill="#777" stroke="#000" stroke-width="1.1"/><path d="M374.91,275.73 V235.79 M372.31,235.79 H377.51" stroke="#000" stroke-width="1.1" fill="none"/><rect x="368.36" y="275.73" width="13.10" height="177.57" fill="#000" stroke="#000" stroke-width="1.1"/><path d="M406.59,426.19 V420.77 M403.99,420.77 H409.19" stroke="#000" stroke-width="1.1" fill="none"/><rect x="400.04" y="426.19" width="13.10" height="27.11" fill="#fff" stroke="#000" stroke-width="1.1"/><path d="M419.69,414.56 V409.67 M417.09,409.67 H422.29" stroke="#000" stroke-width="1.1" fill="none"/><rect x="413.14" y="414.56" width="13.10" height="38.74" fill="#777" stroke="#000" stroke-width="1.1"/><path d="M432.79,388.38 V368.68 M430.19,368.68 H435.39" stroke="#000" stroke-width="1.1" fill="none"/><rect x="426.24" y="388.38" width="13.10" height="64.92" fill="#000" stroke="#000" stroke-width="1.1"/><path d="M464.46,435.45 V427.52 M461.86,427.52 H467.06" stroke="#000" stroke-width="1.1" fill="none"/><rect x="457.91" y="435.45" width="13.10" height="17.85" fill="#fff" stroke="#000" stroke-width="1.1"/><path d="M477.56,436.51 V430.82 M474.96,430.82 H480.16" stroke="#000" stroke-width="1.1" fill="none"/><rect x="471.01" y="436.51" width="13.10" height="16.79" fill="#777" stroke="#000" stroke-width="1.1"/><path d="M490.66,438.09 V433.20 M488.06,433.20 H493.26" stroke="#000" stroke-width="1.1" fill="none"/><rect x="484.11" y="438.09" width="13.10" height="15.21" fill="#000" stroke="#000" stroke-width="1.1"/><path d="M43.50,215.30 V453.30 H506.50" stroke="#333" stroke-width="1.3" fill="none"/><line x1="39.00" y1="453.30" x2="43.50" y2="453.30" stroke="#333" stroke-width="1.2"/><text x="32.70" y="458.60" font-size="15" font-weight="bold" text-anchor="end" fill="#000" stroke="#000" stroke-width="0.25">0</text><line x1="39.00" y1="426.86" x2="43.50" y2="426.86" stroke="#333" stroke-width="1.2"/><text x="32.70" y="432.16" font-size="15" font-weight="bold" text-anchor="end" fill="#000" stroke="#000" stroke-width="0.25">2</text><line x1="39.00" y1="400.41" x2="43.50" y2="400.41" stroke="#333" stroke-width="1.2"/><text x="32.70" y="405.71" font-size="15" font-weight="bold" text-anchor="end" fill="#000" stroke="#000" stroke-width="0.25">4</text><line x1="39.00" y1="373.97" x2="43.50" y2="373.97" stroke="#333" stroke-width="1.2"/><text x="32.70" y="379.27" font-size="15" font-weight="bold" text-anchor="end" fill="#000" stroke="#000" stroke-width="0.25">6</text><line x1="39.00" y1="347.52" x2="43.50" y2="347.52" stroke="#333" stroke-width="1.2"/><text x="32.70" y="352.82" font-size="15" font-weight="bold" text-anchor="end" fill="#000" stroke="#000" stroke-width="0.25">8</text><line x1="39.00" y1="321.08" x2="43.50" y2="321.08" stroke="#333" stroke-width="1.2"/><text x="32.70" y="326.38" font-size="15" font-weight="bold" text-anchor="end" fill="#000" stroke="#000" stroke-width="0.25">10</text><line x1="39.00" y1="294.63" x2="43.50" y2="294.63" stroke="#333" stroke-width="1.2"/><text x="32.70" y="299.93" font-size="15" font-weight="bold" text-anchor="end" fill="#000" stroke="#000" stroke-width="0.25">12</text><line x1="39.00" y1="268.19" x2="43.50" y2="268.19" stroke="#333" stroke-width="1.2"/><text x="32.70" y="273.49" font-size="15" font-weight="bold" text-anchor="end" fill="#000" stroke="#000" stroke-width="0.25">14</text><line x1="39.00" y1="241.74" x2="43.50" y2="241.74" stroke="#333" stroke-width="1.2"/><text x="32.70" y="247.04" font-size="15" font-weight="bold" text-anchor="end" fill="#000" stroke="#000" stroke-width="0.25">16</text><line x1="39.00" y1="215.30" x2="43.50" y2="215.30" stroke="#333" stroke-width="1.2"/><text x="32.70" y="220.60" font-size="15" font-weight="bold" text-anchor="end" fill="#000" stroke="#000" stroke-width="0.25">18</text><line x1="43.50" y1="453.30" x2="43.50" y2="456.10" stroke="#666" stroke-width="1"/><line x1="101.38" y1="453.30" x2="101.38" y2="456.10" stroke="#666" stroke-width="1"/><line x1="159.25" y1="453.30" x2="159.25" y2="456.10" stroke="#666" stroke-width="1"/><line x1="217.12" y1="453.30" x2="217.12" y2="456.10" stroke="#666" stroke-width="1"/><line x1="275.00" y1="453.30" x2="275.00" y2="456.10" stroke="#666" stroke-width="1"/><line x1="332.88" y1="453.30" x2="332.88" y2="456.10" stroke="#666" stroke-width="1"/><line x1="390.75" y1="453.30" x2="390.75" y2="456.10" stroke="#666" stroke-width="1"/><line x1="448.62" y1="453.30" x2="448.62" y2="456.10" stroke="#666" stroke-width="1"/><line x1="506.50" y1="453.30" x2="506.50" y2="456.10" stroke="#666" stroke-width="1"/><text transform="translate(13.7,335.4) rotate(-90)" font-size="14.6" font-weight="bold" text-anchor="middle" stroke="#000" stroke-width="0.25">% B cells in cycle (S/G2)</text><path d="M85.40,325.00 V320.00 H200.80 V325.00" stroke="#000" stroke-width="1.5" fill="none"/><text x="138.90" y="326.30" font-size="23" font-weight="bold" text-anchor="middle" fill="#000" >*</text><path d="M72.30,394.50 V389.50 H187.70 V394.50" stroke="#000" stroke-width="1.5" fill="none"/><text x="124.30" y="395.40" font-size="23" font-weight="bold" text-anchor="middle" fill="#000" >*</text><text x="134.80" y="395.40" font-size="23" font-weight="bold" text-anchor="middle" fill="#000" >*</text><path d="M174.80,359.60 V355.00 H201.20 V359.60" stroke="#000" stroke-width="1.5" fill="none"/><text x="187.70" y="361.70" font-size="23" font-weight="bold" text-anchor="middle" fill="#000" >*</text><path d="M174.20,343.20 V337.70 H233.10 V343.20" stroke="#000" stroke-width="1.5" fill="none"/><text x="203.80" y="344.50" font-size="23" font-weight="bold" text-anchor="middle" fill="#000" >*</text><path d="M232.50,331.20 V326.80 H259.20 V331.20" stroke="#000" stroke-width="1.5" fill="none"/><text x="244.50" y="332.70" font-size="23" font-weight="bold" text-anchor="middle" fill="#000" >*</text><path d="M288.90,355.00 V350.00 H348.20 V355.00" stroke="#000" stroke-width="1.5" fill="none"/><text x="310.30" y="357.10" font-size="23" font-weight="bold" text-anchor="middle" fill="#000" >*</text><text x="320.80" y="357.10" font-size="23" font-weight="bold" text-anchor="middle" fill="#000" >*</text><path d="M345.50,306.00 V301.20 H362.30 V306.00" stroke="#000" stroke-width="1.5" fill="none"/><text x="353.30" y="307.50" font-size="23" font-weight="bold" text-anchor="middle" fill="#000" >*</text><path d="M348.20,232.30 V227.20 H374.80 V232.30" stroke="#000" stroke-width="1.5" fill="none"/><text x="360.70" y="234.00" font-size="23" font-weight="bold" text-anchor="middle" fill="#000" >*</text><path d="M431.20,352.20 V347.40 H490.80 V352.20" stroke="#000" stroke-width="1.5" fill="none"/><text x="460.80" y="353.60" font-size="23" font-weight="bold" text-anchor="middle" fill="#000" >*</text><path d="M419.20,368.00 V363.10 H478.50 V368.00" stroke="#000" stroke-width="1.5" fill="none"/><text x="451.60" y="370.00" font-size="23" font-weight="bold" text-anchor="middle" fill="#000" >*</text><text transform="translate(69.43,472.57) rotate(-45)" font-size="15.5" font-weight="bold" text-anchor="middle" stroke="#000" stroke-width="0.3">NIL</text><text transform="translate(120.24,479.78) rotate(-45)" font-size="15.5" font-weight="bold" text-anchor="middle" stroke="#000" stroke-width="0.3">IL-4</text><text transform="translate(171.08,487.38) rotate(-45)" font-size="15.5" font-weight="bold" text-anchor="middle" stroke="#000" stroke-width="0.3">anti-IgM</text><text transform="translate(224.32,485.08) rotate(-45)" font-size="15.5" font-weight="bold" text-anchor="middle" stroke="#000" stroke-width="0.3">anti-IgM</text><text transform="translate(237.68,496.61) rotate(-45)" font-size="15.5" font-weight="bold" text-anchor="middle" stroke="#000" stroke-width="0.3">+IL-4</text><text transform="translate(282.83,492.79) rotate(-45)" font-size="15.5" font-weight="bold" text-anchor="middle" stroke="#000" stroke-width="0.3">anti-CD40</text><text transform="translate(333.53,488.94) rotate(-45)" font-size="15.5" font-weight="bold" text-anchor="middle" stroke="#000" stroke-width="0.3">anti-CD40</text><text transform="translate(347.74,501.74) rotate(-45)" font-size="15.5" font-weight="bold" text-anchor="middle" stroke="#000" stroke-width="0.3">+ anti-IgM</text><text transform="translate(401.94,485.05) rotate(-45)" font-size="15.5" font-weight="bold" text-anchor="middle" stroke="#000" stroke-width="0.3">anti-IgM</text><text transform="translate(412.55,499.19) rotate(-45)" font-size="15.5" font-weight="bold" text-anchor="middle" stroke="#000" stroke-width="0.3">+ BAFF</text><text transform="translate(471.06,479.89) rotate(-45)" font-size="15.5" font-weight="bold" text-anchor="middle" stroke="#000" stroke-width="0.3">BAFF</text></svg>
</body></html>
